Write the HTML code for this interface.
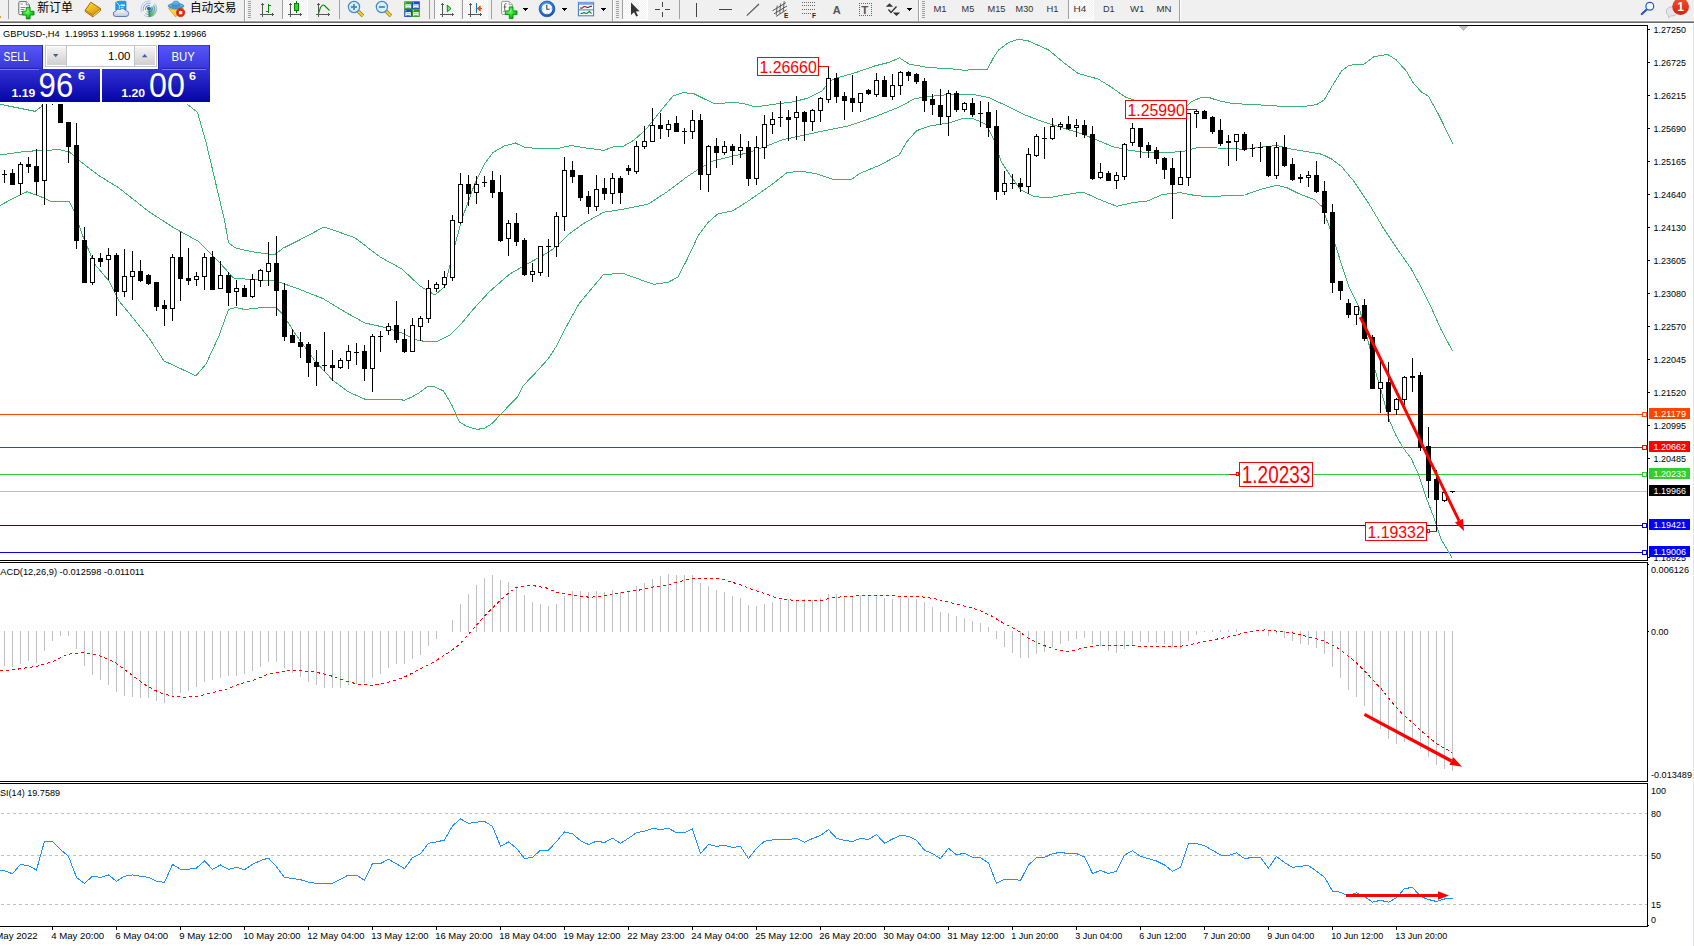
<!DOCTYPE html>
<html><head><meta charset="utf-8"><title>GBPUSD H4</title>
<style>html,body{margin:0;padding:0;background:#fff;overflow:hidden}svg{display:block}</style></head>
<body>
<svg width="1694" height="946" viewBox="0 0 1694 946" font-family="'Liberation Sans','Noto Sans CJK SC',sans-serif" shape-rendering="crispEdges">
<defs>
<linearGradient id="gbtn" x1="0" y1="0" x2="0" y2="1"><stop offset="0" stop-color="#5858f8"/><stop offset="1" stop-color="#3636dc"/></linearGradient>
<linearGradient id="gprice" x1="0" y1="0" x2="0" y2="1"><stop offset="0" stop-color="#3030d4"/><stop offset="1" stop-color="#0505a6"/></linearGradient>
<linearGradient id="gspin" x1="0" y1="0" x2="0" y2="1"><stop offset="0" stop-color="#f4f4f4"/><stop offset="1" stop-color="#cfcfcf"/></linearGradient>
<linearGradient id="gred" x1="0" y1="0" x2="0" y2="1"><stop offset="0" stop-color="#f0502e"/><stop offset="1" stop-color="#d61f10"/></linearGradient>
<clipPath id="cmain"><rect x="0" y="26" width="1647" height="534"/></clipPath>
<clipPath id="cax1"><rect x="1648" y="23" width="46" height="539"/></clipPath>
</defs>
<rect x="0" y="0" width="1694" height="946" fill="#fff"/>
<g clip-path="url(#cmain)">
<rect x="0" y="414" width="1647" height="1" fill="#ff4500"/>
<rect x="0" y="447" width="1647" height="1" fill="#ff0000"/>
<rect x="0" y="474" width="1647" height="1" fill="#32cd32"/>
<rect x="0" y="491" width="1647" height="1" fill="#c0c0c0"/>
<rect x="0" y="525" width="1647" height="1" fill="#0000ff"/>
<rect x="0" y="552" width="1647" height="1" fill="#0000ff"/>
<polyline points="0.0,104.3 15.0,107.3 35.0,111.3 41.0,106.8 44.0,103.0 50.0,90.0 80.0,60.0 150.0,60.0 180.0,95.0 187.5,104.4 197.5,112.4 206.0,142.0 216.0,184.4 224.8,221.6 228.5,242.8 236.0,248.2 251.0,251.5 268.0,254.0 275.7,254.0 283.0,248.2 298.0,240.8 324.0,227.0 333.0,230.0 355.0,237.8 380.0,257.0 402.0,269.0 420.0,286.0 434.8,295.0 444.7,286.7 454.6,246.5 462.0,218.7 474.5,184.5 484.5,164.0 493.0,152.4 504.3,146.0 515.5,143.0 524.2,147.2 539.0,148.7 556.5,148.7 571.4,145.5 586.3,148.0 603.7,150.4 613.6,146.7 623.5,146.2 633.5,140.5 646.0,129.3 660.8,110.7 673.2,95.8 683.0,92.8 693.0,93.3 705.5,99.5 715.4,104.0 730.4,102.5 742.8,103.2 755.2,107.0 772.6,104.5 792.4,102.0 807.4,98.3 812.4,95.8 822.4,90.8 829.8,80.9 839.7,77.2 857.0,72.2 874.5,66.0 889.4,62.3 899.4,57.8 909.3,64.2 929.2,67.7 949.0,68.5 964.0,70.2 987.5,69.2 993.7,57.3 998.7,49.8 1008.6,42.4 1018.6,39.2 1028.5,41.0 1048.4,49.8 1063.3,62.3 1078.2,73.4 1098.0,79.0 1108.0,85.0 1115.3,90.0 1125.3,96.9 1132.2,99.6 1150.0,104.5 1170.0,107.0 1187.0,105.7 1190.5,102.5 1195.0,100.0 1200.0,98.0 1204.0,97.2 1208.0,97.2 1215.0,99.5 1222.0,101.5 1230.0,103.0 1242.2,104.0 1264.6,105.2 1291.9,107.0 1304.3,106.5 1316.7,104.5 1324.2,100.0 1331.6,87.0 1341.6,71.0 1349.0,65.2 1364.0,64.2 1373.9,56.8 1387.5,54.3 1396.2,59.8 1406.2,71.0 1413.6,83.4 1421.0,91.6 1428.5,96.3 1438.5,114.4 1452.9,143.7" fill="none" stroke="#3cb371" stroke-width="1"/>
<polyline points="0.0,155.0 25.0,151.4 59.6,149.6 69.5,152.0 79.5,160.8 99.0,175.7 119.0,188.0 149.0,211.7 174.0,227.9 198.7,241.5 218.6,261.4 233.5,278.0 248.0,279.3 275.7,280.8 298.0,288.7 323.0,298.6 347.7,313.5 365.0,323.0 387.5,328.0 402.0,333.0 415.0,339.6 427.3,341.9 437.0,341.4 449.7,335.2 462.0,322.8 474.5,307.9 489.4,291.7 509.3,274.3 529.0,263.0 549.0,252.0 559.0,244.0 569.0,234.0 583.8,223.4 603.7,212.2 623.5,209.2 648.4,204.0 668.3,191.0 685.6,177.8 698.0,169.5 713.0,161.0 730.4,156.6 747.7,152.9 765.0,146.7 782.5,139.8 802.4,135.5 824.8,130.6 849.7,125.6 874.5,116.9 899.4,107.0 914.3,98.8 929.2,96.5 949.0,94.5 973.9,94.5 988.8,97.5 1003.7,104.5 1023.5,114.4 1043.4,121.9 1063.3,128.0 1083.0,134.3 1098.0,140.5 1113.0,146.7 1128.0,150.0 1147.7,152.9 1165.0,152.4 1182.5,151.7 1197.4,147.5 1210.0,147.5 1224.8,148.5 1244.7,149.2 1264.6,146.7 1277.0,145.5 1291.9,149.2 1306.8,151.7 1321.7,154.2 1331.6,159.0 1341.6,166.6 1354.0,181.5 1368.9,203.8 1383.8,228.7 1396.2,247.4 1411.0,268.5 1421.0,287.0 1431.0,307.0 1441.0,329.4 1452.5,351.0" fill="none" stroke="#3cb371" stroke-width="1"/>
<polyline points="0.0,205.5 15.0,197.3 27.0,191.8 40.0,196.3 52.0,201.8 69.5,201.8 74.5,211.7 82.0,234.0 94.4,263.9 109.0,281.0 119.0,301.0 129.0,313.0 149.0,338.0 164.0,360.9 196.0,375.8 206.0,364.0 218.6,336.8 228.5,309.5 236.0,307.5 244.7,309.5 260.8,307.7 275.7,307.0 283.0,314.5 295.6,334.3 315.4,361.6 332.8,380.3 347.7,391.5 365.0,399.2 400.0,399.2 403.7,400.4 411.2,397.3 419.9,392.3 427.4,386.7 431.1,386.1 436.1,387.4 443.6,391.1 447.3,397.3 452.3,406.0 456.1,414.8 459.8,422.3 467.3,426.6 477.3,429.4 484.7,428.1 492.2,423.5 499.7,415.4 510.9,403.6 517.2,397.3 523.4,385.5 535.9,372.4 548.3,358.7 557.1,345.0 564.5,330.0 578.8,304.0 603.7,274.3 623.5,273.6 653.4,284.3 668.3,282.3 678.2,276.8 686.9,259.7 693.0,247.0 698.0,236.0 708.0,222.5 718.0,213.8 732.8,210.8 747.7,201.4 772.6,184.0 787.5,172.3 802.4,171.5 815.0,173.5 832.3,179.0 852.2,179.0 859.6,173.5 879.5,165.3 899.4,154.7 906.8,141.7 916.7,130.6 931.6,125.6 949.0,123.0 964.0,118.0 973.9,118.9 986.3,124.4 993.7,139.3 1001.2,161.6 1011.0,176.5 1021.0,190.2 1033.5,196.4 1048.4,198.0 1063.3,195.0 1083.0,192.0 1098.0,198.9 1116.7,206.3 1132.8,202.6 1147.7,200.9 1162.6,194.4 1180.0,192.7 1197.4,195.9 1212.3,196.4 1244.7,195.0 1259.6,189.7 1277.0,185.2 1286.9,187.7 1299.4,193.9 1314.3,199.6 1321.7,206.3 1329.2,226.2 1335.4,245.0 1341.6,264.8 1349.0,287.0 1359.0,307.0 1368.9,344.0 1375.0,370.0 1381.3,391.5 1388.8,418.8 1396.2,436.0 1403.7,448.6 1411.1,458.4 1418.6,474.5 1426.0,496.9 1433.5,516.7 1441.0,539.0 1452.0,557.7" fill="none" stroke="#3cb371" stroke-width="1"/>
<rect x="4" y="170" width="1" height="13" fill="#000"/>
<rect x="2" y="174" width="5" height="1" fill="#000"/>
<rect x="12" y="169" width="1" height="16" fill="#000"/>
<rect x="10" y="173" width="5" height="12" fill="#000"/>
<rect x="20" y="162" width="1" height="33" fill="#000"/>
<rect x="18" y="164" width="5" height="20" fill="#000"/>
<rect x="19" y="165" width="3" height="18" fill="#fff"/>
<rect x="28" y="157" width="1" height="16" fill="#000"/>
<rect x="26" y="164" width="5" height="3" fill="#000"/>
<rect x="36" y="149" width="1" height="46" fill="#000"/>
<rect x="34" y="166" width="5" height="16" fill="#000"/>
<rect x="44" y="70" width="1" height="135" fill="#000"/>
<rect x="42" y="96" width="5" height="85" fill="#000"/>
<rect x="43" y="97" width="3" height="83" fill="#fff"/>
<rect x="52" y="75" width="1" height="30" fill="#000"/>
<rect x="50" y="80" width="5" height="21" fill="#000"/>
<rect x="60" y="90" width="1" height="33" fill="#000"/>
<rect x="58" y="95" width="5" height="28" fill="#000"/>
<rect x="68" y="122" width="1" height="41" fill="#000"/>
<rect x="66" y="122" width="5" height="25" fill="#000"/>
<rect x="76" y="123" width="1" height="126" fill="#000"/>
<rect x="74" y="145" width="5" height="96" fill="#000"/>
<rect x="84" y="227" width="1" height="56" fill="#000"/>
<rect x="82" y="240" width="5" height="43" fill="#000"/>
<rect x="92" y="255" width="1" height="30" fill="#000"/>
<rect x="90" y="258" width="5" height="25" fill="#000"/>
<rect x="91" y="259" width="3" height="23" fill="#fff"/>
<rect x="100" y="253" width="1" height="14" fill="#000"/>
<rect x="98" y="258" width="5" height="4" fill="#000"/>
<rect x="108" y="248" width="1" height="32" fill="#000"/>
<rect x="106" y="255" width="5" height="5" fill="#000"/>
<rect x="107" y="256" width="3" height="3" fill="#fff"/>
<rect x="116" y="253" width="1" height="63" fill="#000"/>
<rect x="114" y="255" width="5" height="37" fill="#000"/>
<rect x="124" y="249" width="1" height="48" fill="#000"/>
<rect x="122" y="276" width="5" height="16" fill="#000"/>
<rect x="123" y="277" width="3" height="14" fill="#fff"/>
<rect x="132" y="251" width="1" height="49" fill="#000"/>
<rect x="130" y="271" width="5" height="6" fill="#000"/>
<rect x="131" y="272" width="3" height="4" fill="#fff"/>
<rect x="140" y="260" width="1" height="22" fill="#000"/>
<rect x="138" y="271" width="5" height="10" fill="#000"/>
<rect x="148" y="274" width="1" height="11" fill="#000"/>
<rect x="146" y="275" width="5" height="9" fill="#000"/>
<rect x="156" y="282" width="1" height="29" fill="#000"/>
<rect x="154" y="282" width="5" height="25" fill="#000"/>
<rect x="164" y="300" width="1" height="26" fill="#000"/>
<rect x="162" y="305" width="5" height="4" fill="#000"/>
<rect x="172" y="254" width="1" height="67" fill="#000"/>
<rect x="170" y="257" width="5" height="52" fill="#000"/>
<rect x="171" y="258" width="3" height="50" fill="#fff"/>
<rect x="180" y="232" width="1" height="69" fill="#000"/>
<rect x="178" y="257" width="5" height="22" fill="#000"/>
<rect x="188" y="248" width="1" height="37" fill="#000"/>
<rect x="186" y="278" width="5" height="3" fill="#000"/>
<rect x="196" y="272" width="1" height="14" fill="#000"/>
<rect x="194" y="276" width="5" height="4" fill="#000"/>
<rect x="195" y="277" width="3" height="2" fill="#fff"/>
<rect x="204" y="253" width="1" height="37" fill="#000"/>
<rect x="202" y="257" width="5" height="20" fill="#000"/>
<rect x="203" y="258" width="3" height="18" fill="#fff"/>
<rect x="212" y="251" width="1" height="39" fill="#000"/>
<rect x="210" y="257" width="5" height="33" fill="#000"/>
<rect x="220" y="261" width="1" height="28" fill="#000"/>
<rect x="218" y="275" width="5" height="14" fill="#000"/>
<rect x="219" y="276" width="3" height="12" fill="#fff"/>
<rect x="228" y="272" width="1" height="34" fill="#000"/>
<rect x="226" y="275" width="5" height="18" fill="#000"/>
<rect x="236" y="280" width="1" height="26" fill="#000"/>
<rect x="234" y="288" width="5" height="4" fill="#000"/>
<rect x="235" y="289" width="3" height="2" fill="#fff"/>
<rect x="244" y="285" width="1" height="12" fill="#000"/>
<rect x="242" y="288" width="5" height="9" fill="#000"/>
<rect x="252" y="274" width="1" height="24" fill="#000"/>
<rect x="250" y="279" width="5" height="18" fill="#000"/>
<rect x="251" y="280" width="3" height="16" fill="#fff"/>
<rect x="260" y="269" width="1" height="18" fill="#000"/>
<rect x="258" y="270" width="5" height="11" fill="#000"/>
<rect x="259" y="271" width="3" height="9" fill="#fff"/>
<rect x="268" y="242" width="1" height="44" fill="#000"/>
<rect x="266" y="263" width="5" height="9" fill="#000"/>
<rect x="267" y="264" width="3" height="7" fill="#fff"/>
<rect x="276" y="236" width="1" height="80" fill="#000"/>
<rect x="274" y="263" width="5" height="28" fill="#000"/>
<rect x="284" y="283" width="1" height="58" fill="#000"/>
<rect x="282" y="290" width="5" height="47" fill="#000"/>
<rect x="292" y="329" width="1" height="14" fill="#000"/>
<rect x="290" y="335" width="5" height="8" fill="#000"/>
<rect x="300" y="332" width="1" height="26" fill="#000"/>
<rect x="298" y="342" width="5" height="5" fill="#000"/>
<rect x="308" y="342" width="1" height="35" fill="#000"/>
<rect x="306" y="344" width="5" height="19" fill="#000"/>
<rect x="316" y="350" width="1" height="36" fill="#000"/>
<rect x="314" y="362" width="5" height="5" fill="#000"/>
<rect x="324" y="332" width="1" height="39" fill="#000"/>
<rect x="322" y="365" width="5" height="1" fill="#000"/>
<rect x="332" y="350" width="1" height="31" fill="#000"/>
<rect x="330" y="365" width="5" height="3" fill="#000"/>
<rect x="340" y="358" width="1" height="11" fill="#000"/>
<rect x="338" y="360" width="5" height="8" fill="#000"/>
<rect x="339" y="361" width="3" height="6" fill="#fff"/>
<rect x="348" y="345" width="1" height="24" fill="#000"/>
<rect x="346" y="351" width="5" height="10" fill="#000"/>
<rect x="347" y="352" width="3" height="8" fill="#fff"/>
<rect x="356" y="343" width="1" height="22" fill="#000"/>
<rect x="354" y="352" width="5" height="1" fill="#000"/>
<rect x="364" y="345" width="1" height="36" fill="#000"/>
<rect x="362" y="351" width="5" height="18" fill="#000"/>
<rect x="372" y="334" width="1" height="58" fill="#000"/>
<rect x="370" y="336" width="5" height="33" fill="#000"/>
<rect x="371" y="337" width="3" height="31" fill="#fff"/>
<rect x="380" y="331" width="1" height="21" fill="#000"/>
<rect x="378" y="336" width="5" height="1" fill="#000"/>
<rect x="388" y="323" width="1" height="12" fill="#000"/>
<rect x="386" y="326" width="5" height="5" fill="#000"/>
<rect x="387" y="327" width="3" height="3" fill="#fff"/>
<rect x="396" y="301" width="1" height="42" fill="#000"/>
<rect x="394" y="325" width="5" height="15" fill="#000"/>
<rect x="404" y="329" width="1" height="24" fill="#000"/>
<rect x="402" y="339" width="5" height="13" fill="#000"/>
<rect x="412" y="318" width="1" height="34" fill="#000"/>
<rect x="410" y="325" width="5" height="27" fill="#000"/>
<rect x="411" y="326" width="3" height="25" fill="#fff"/>
<rect x="420" y="316" width="1" height="25" fill="#000"/>
<rect x="418" y="318" width="5" height="9" fill="#000"/>
<rect x="419" y="319" width="3" height="7" fill="#fff"/>
<rect x="428" y="280" width="1" height="43" fill="#000"/>
<rect x="426" y="288" width="5" height="31" fill="#000"/>
<rect x="427" y="289" width="3" height="29" fill="#fff"/>
<rect x="436" y="282" width="1" height="10" fill="#000"/>
<rect x="434" y="284" width="5" height="5" fill="#000"/>
<rect x="435" y="285" width="3" height="3" fill="#fff"/>
<rect x="444" y="271" width="1" height="17" fill="#000"/>
<rect x="442" y="277" width="5" height="8" fill="#000"/>
<rect x="443" y="278" width="3" height="6" fill="#fff"/>
<rect x="452" y="215" width="1" height="66" fill="#000"/>
<rect x="450" y="220" width="5" height="58" fill="#000"/>
<rect x="451" y="221" width="3" height="56" fill="#fff"/>
<rect x="460" y="173" width="1" height="51" fill="#000"/>
<rect x="458" y="184" width="5" height="39" fill="#000"/>
<rect x="459" y="185" width="3" height="37" fill="#fff"/>
<rect x="468" y="175" width="1" height="31" fill="#000"/>
<rect x="466" y="184" width="5" height="10" fill="#000"/>
<rect x="476" y="176" width="1" height="28" fill="#000"/>
<rect x="474" y="184" width="5" height="9" fill="#000"/>
<rect x="475" y="185" width="3" height="7" fill="#fff"/>
<rect x="484" y="176" width="1" height="11" fill="#000"/>
<rect x="482" y="182" width="5" height="1" fill="#000"/>
<rect x="492" y="171" width="1" height="27" fill="#000"/>
<rect x="490" y="180" width="5" height="13" fill="#000"/>
<rect x="500" y="175" width="1" height="67" fill="#000"/>
<rect x="498" y="192" width="5" height="49" fill="#000"/>
<rect x="508" y="220" width="1" height="36" fill="#000"/>
<rect x="506" y="223" width="5" height="16" fill="#000"/>
<rect x="507" y="224" width="3" height="14" fill="#fff"/>
<rect x="516" y="213" width="1" height="33" fill="#000"/>
<rect x="514" y="223" width="5" height="19" fill="#000"/>
<rect x="524" y="238" width="1" height="38" fill="#000"/>
<rect x="522" y="240" width="5" height="35" fill="#000"/>
<rect x="532" y="263" width="1" height="19" fill="#000"/>
<rect x="530" y="271" width="5" height="4" fill="#000"/>
<rect x="531" y="272" width="3" height="2" fill="#fff"/>
<rect x="540" y="246" width="1" height="30" fill="#000"/>
<rect x="538" y="246" width="5" height="27" fill="#000"/>
<rect x="539" y="247" width="3" height="25" fill="#fff"/>
<rect x="548" y="239" width="1" height="38" fill="#000"/>
<rect x="546" y="246" width="5" height="1" fill="#000"/>
<rect x="556" y="212" width="1" height="45" fill="#000"/>
<rect x="554" y="216" width="5" height="31" fill="#000"/>
<rect x="555" y="217" width="3" height="29" fill="#fff"/>
<rect x="564" y="157" width="1" height="74" fill="#000"/>
<rect x="562" y="170" width="5" height="47" fill="#000"/>
<rect x="563" y="171" width="3" height="45" fill="#fff"/>
<rect x="572" y="161" width="1" height="22" fill="#000"/>
<rect x="570" y="170" width="5" height="7" fill="#000"/>
<rect x="580" y="175" width="1" height="26" fill="#000"/>
<rect x="578" y="175" width="5" height="23" fill="#000"/>
<rect x="588" y="191" width="1" height="23" fill="#000"/>
<rect x="586" y="196" width="5" height="11" fill="#000"/>
<rect x="596" y="175" width="1" height="36" fill="#000"/>
<rect x="594" y="189" width="5" height="18" fill="#000"/>
<rect x="595" y="190" width="3" height="16" fill="#fff"/>
<rect x="604" y="178" width="1" height="22" fill="#000"/>
<rect x="602" y="188" width="5" height="6" fill="#000"/>
<rect x="612" y="173" width="1" height="31" fill="#000"/>
<rect x="610" y="178" width="5" height="16" fill="#000"/>
<rect x="611" y="179" width="3" height="14" fill="#fff"/>
<rect x="620" y="176" width="1" height="28" fill="#000"/>
<rect x="618" y="178" width="5" height="15" fill="#000"/>
<rect x="628" y="165" width="1" height="10" fill="#000"/>
<rect x="626" y="168" width="5" height="3" fill="#000"/>
<rect x="636" y="141" width="1" height="33" fill="#000"/>
<rect x="634" y="146" width="5" height="26" fill="#000"/>
<rect x="635" y="147" width="3" height="24" fill="#fff"/>
<rect x="644" y="126" width="1" height="23" fill="#000"/>
<rect x="642" y="141" width="5" height="6" fill="#000"/>
<rect x="643" y="142" width="3" height="4" fill="#fff"/>
<rect x="652" y="108" width="1" height="34" fill="#000"/>
<rect x="650" y="125" width="5" height="17" fill="#000"/>
<rect x="651" y="126" width="3" height="15" fill="#fff"/>
<rect x="660" y="113" width="1" height="26" fill="#000"/>
<rect x="658" y="125" width="5" height="4" fill="#000"/>
<rect x="668" y="120" width="1" height="17" fill="#000"/>
<rect x="666" y="124" width="5" height="6" fill="#000"/>
<rect x="667" y="125" width="3" height="4" fill="#fff"/>
<rect x="676" y="116" width="1" height="16" fill="#000"/>
<rect x="674" y="123" width="5" height="9" fill="#000"/>
<rect x="684" y="128" width="1" height="16" fill="#000"/>
<rect x="682" y="131" width="5" height="1" fill="#000"/>
<rect x="692" y="110" width="1" height="29" fill="#000"/>
<rect x="690" y="120" width="5" height="12" fill="#000"/>
<rect x="691" y="121" width="3" height="10" fill="#fff"/>
<rect x="700" y="114" width="1" height="76" fill="#000"/>
<rect x="698" y="120" width="5" height="55" fill="#000"/>
<rect x="708" y="145" width="1" height="47" fill="#000"/>
<rect x="706" y="146" width="5" height="29" fill="#000"/>
<rect x="707" y="147" width="3" height="27" fill="#fff"/>
<rect x="716" y="138" width="1" height="30" fill="#000"/>
<rect x="714" y="146" width="5" height="7" fill="#000"/>
<rect x="724" y="141" width="1" height="14" fill="#000"/>
<rect x="722" y="146" width="5" height="7" fill="#000"/>
<rect x="723" y="147" width="3" height="5" fill="#fff"/>
<rect x="732" y="144" width="1" height="21" fill="#000"/>
<rect x="730" y="146" width="5" height="5" fill="#000"/>
<rect x="740" y="134" width="1" height="24" fill="#000"/>
<rect x="738" y="147" width="5" height="4" fill="#000"/>
<rect x="739" y="148" width="3" height="2" fill="#fff"/>
<rect x="748" y="141" width="1" height="45" fill="#000"/>
<rect x="746" y="147" width="5" height="32" fill="#000"/>
<rect x="756" y="136" width="1" height="49" fill="#000"/>
<rect x="754" y="147" width="5" height="32" fill="#000"/>
<rect x="755" y="148" width="3" height="30" fill="#fff"/>
<rect x="764" y="115" width="1" height="44" fill="#000"/>
<rect x="762" y="124" width="5" height="24" fill="#000"/>
<rect x="763" y="125" width="3" height="22" fill="#fff"/>
<rect x="772" y="112" width="1" height="22" fill="#000"/>
<rect x="770" y="119" width="5" height="6" fill="#000"/>
<rect x="771" y="120" width="3" height="4" fill="#fff"/>
<rect x="780" y="101" width="1" height="26" fill="#000"/>
<rect x="778" y="117" width="5" height="1" fill="#000"/>
<rect x="788" y="110" width="1" height="31" fill="#000"/>
<rect x="786" y="117" width="5" height="3" fill="#000"/>
<rect x="796" y="96" width="1" height="44" fill="#000"/>
<rect x="794" y="112" width="5" height="6" fill="#000"/>
<rect x="795" y="113" width="3" height="4" fill="#fff"/>
<rect x="804" y="111" width="1" height="30" fill="#000"/>
<rect x="802" y="112" width="5" height="10" fill="#000"/>
<rect x="812" y="109" width="1" height="22" fill="#000"/>
<rect x="810" y="110" width="5" height="12" fill="#000"/>
<rect x="811" y="111" width="3" height="10" fill="#fff"/>
<rect x="820" y="97" width="1" height="25" fill="#000"/>
<rect x="818" y="98" width="5" height="13" fill="#000"/>
<rect x="819" y="99" width="3" height="11" fill="#fff"/>
<rect x="828" y="67" width="1" height="36" fill="#000"/>
<rect x="826" y="78" width="5" height="22" fill="#000"/>
<rect x="827" y="79" width="3" height="20" fill="#fff"/>
<rect x="836" y="73" width="1" height="30" fill="#000"/>
<rect x="834" y="78" width="5" height="19" fill="#000"/>
<rect x="844" y="92" width="1" height="28" fill="#000"/>
<rect x="842" y="96" width="5" height="5" fill="#000"/>
<rect x="852" y="75" width="1" height="37" fill="#000"/>
<rect x="850" y="98" width="5" height="5" fill="#000"/>
<rect x="860" y="93" width="1" height="19" fill="#000"/>
<rect x="858" y="93" width="5" height="10" fill="#000"/>
<rect x="859" y="94" width="3" height="8" fill="#fff"/>
<rect x="868" y="89" width="1" height="6" fill="#000"/>
<rect x="866" y="90" width="5" height="4" fill="#000"/>
<rect x="876" y="73" width="1" height="24" fill="#000"/>
<rect x="874" y="80" width="5" height="15" fill="#000"/>
<rect x="875" y="81" width="3" height="13" fill="#fff"/>
<rect x="884" y="76" width="1" height="21" fill="#000"/>
<rect x="882" y="80" width="5" height="17" fill="#000"/>
<rect x="892" y="74" width="1" height="26" fill="#000"/>
<rect x="890" y="85" width="5" height="12" fill="#000"/>
<rect x="891" y="86" width="3" height="10" fill="#fff"/>
<rect x="900" y="71" width="1" height="24" fill="#000"/>
<rect x="898" y="72" width="5" height="14" fill="#000"/>
<rect x="899" y="73" width="3" height="12" fill="#fff"/>
<rect x="908" y="71" width="1" height="10" fill="#000"/>
<rect x="906" y="72" width="5" height="4" fill="#000"/>
<rect x="916" y="73" width="1" height="11" fill="#000"/>
<rect x="914" y="74" width="5" height="8" fill="#000"/>
<rect x="924" y="78" width="1" height="34" fill="#000"/>
<rect x="922" y="81" width="5" height="20" fill="#000"/>
<rect x="932" y="94" width="1" height="21" fill="#000"/>
<rect x="930" y="99" width="5" height="6" fill="#000"/>
<rect x="940" y="89" width="1" height="36" fill="#000"/>
<rect x="938" y="105" width="5" height="12" fill="#000"/>
<rect x="948" y="90" width="1" height="46" fill="#000"/>
<rect x="946" y="93" width="5" height="24" fill="#000"/>
<rect x="947" y="94" width="3" height="22" fill="#fff"/>
<rect x="956" y="91" width="1" height="21" fill="#000"/>
<rect x="954" y="93" width="5" height="17" fill="#000"/>
<rect x="964" y="102" width="1" height="10" fill="#000"/>
<rect x="962" y="103" width="5" height="7" fill="#000"/>
<rect x="963" y="104" width="3" height="5" fill="#fff"/>
<rect x="972" y="98" width="1" height="19" fill="#000"/>
<rect x="970" y="103" width="5" height="12" fill="#000"/>
<rect x="980" y="101" width="1" height="26" fill="#000"/>
<rect x="978" y="113" width="5" height="1" fill="#000"/>
<rect x="988" y="102" width="1" height="35" fill="#000"/>
<rect x="986" y="112" width="5" height="16" fill="#000"/>
<rect x="996" y="110" width="1" height="90" fill="#000"/>
<rect x="994" y="126" width="5" height="66" fill="#000"/>
<rect x="1004" y="171" width="1" height="24" fill="#000"/>
<rect x="1002" y="183" width="5" height="9" fill="#000"/>
<rect x="1003" y="184" width="3" height="7" fill="#fff"/>
<rect x="1012" y="174" width="1" height="15" fill="#000"/>
<rect x="1010" y="183" width="5" height="1" fill="#000"/>
<rect x="1020" y="178" width="1" height="14" fill="#000"/>
<rect x="1018" y="183" width="5" height="4" fill="#000"/>
<rect x="1028" y="148" width="1" height="46" fill="#000"/>
<rect x="1026" y="154" width="5" height="33" fill="#000"/>
<rect x="1027" y="155" width="3" height="31" fill="#fff"/>
<rect x="1036" y="134" width="1" height="23" fill="#000"/>
<rect x="1034" y="136" width="5" height="20" fill="#000"/>
<rect x="1035" y="137" width="3" height="18" fill="#fff"/>
<rect x="1044" y="127" width="1" height="32" fill="#000"/>
<rect x="1042" y="138" width="5" height="1" fill="#000"/>
<rect x="1052" y="118" width="1" height="22" fill="#000"/>
<rect x="1050" y="126" width="5" height="13" fill="#000"/>
<rect x="1051" y="127" width="3" height="11" fill="#fff"/>
<rect x="1060" y="122" width="1" height="8" fill="#000"/>
<rect x="1058" y="124" width="5" height="3" fill="#000"/>
<rect x="1059" y="125" width="3" height="1" fill="#fff"/>
<rect x="1068" y="116" width="1" height="14" fill="#000"/>
<rect x="1066" y="124" width="5" height="5" fill="#000"/>
<rect x="1076" y="119" width="1" height="18" fill="#000"/>
<rect x="1074" y="125" width="5" height="3" fill="#000"/>
<rect x="1075" y="126" width="3" height="1" fill="#fff"/>
<rect x="1084" y="120" width="1" height="18" fill="#000"/>
<rect x="1082" y="125" width="5" height="10" fill="#000"/>
<rect x="1092" y="126" width="1" height="54" fill="#000"/>
<rect x="1090" y="134" width="5" height="45" fill="#000"/>
<rect x="1100" y="163" width="1" height="16" fill="#000"/>
<rect x="1098" y="172" width="5" height="6" fill="#000"/>
<rect x="1099" y="173" width="3" height="4" fill="#fff"/>
<rect x="1108" y="171" width="1" height="10" fill="#000"/>
<rect x="1106" y="173" width="5" height="8" fill="#000"/>
<rect x="1116" y="172" width="1" height="17" fill="#000"/>
<rect x="1114" y="175" width="5" height="6" fill="#000"/>
<rect x="1115" y="176" width="3" height="4" fill="#fff"/>
<rect x="1124" y="143" width="1" height="37" fill="#000"/>
<rect x="1122" y="144" width="5" height="33" fill="#000"/>
<rect x="1123" y="145" width="3" height="31" fill="#fff"/>
<rect x="1132" y="123" width="1" height="23" fill="#000"/>
<rect x="1130" y="128" width="5" height="15" fill="#000"/>
<rect x="1131" y="129" width="3" height="13" fill="#fff"/>
<rect x="1140" y="128" width="1" height="30" fill="#000"/>
<rect x="1138" y="128" width="5" height="19" fill="#000"/>
<rect x="1148" y="142" width="1" height="16" fill="#000"/>
<rect x="1146" y="145" width="5" height="6" fill="#000"/>
<rect x="1156" y="147" width="1" height="17" fill="#000"/>
<rect x="1154" y="150" width="5" height="9" fill="#000"/>
<rect x="1164" y="157" width="1" height="22" fill="#000"/>
<rect x="1162" y="158" width="5" height="12" fill="#000"/>
<rect x="1172" y="158" width="1" height="61" fill="#000"/>
<rect x="1170" y="168" width="5" height="17" fill="#000"/>
<rect x="1180" y="151" width="1" height="34" fill="#000"/>
<rect x="1178" y="177" width="5" height="8" fill="#000"/>
<rect x="1179" y="178" width="3" height="6" fill="#fff"/>
<rect x="1188" y="113" width="1" height="73" fill="#000"/>
<rect x="1186" y="113" width="5" height="65" fill="#000"/>
<rect x="1187" y="114" width="3" height="63" fill="#fff"/>
<rect x="1196" y="110" width="1" height="18" fill="#000"/>
<rect x="1194" y="111" width="5" height="3" fill="#000"/>
<rect x="1195" y="112" width="3" height="1" fill="#fff"/>
<rect x="1204" y="110" width="1" height="9" fill="#000"/>
<rect x="1202" y="111" width="5" height="8" fill="#000"/>
<rect x="1212" y="116" width="1" height="18" fill="#000"/>
<rect x="1210" y="117" width="5" height="15" fill="#000"/>
<rect x="1220" y="119" width="1" height="27" fill="#000"/>
<rect x="1218" y="130" width="5" height="14" fill="#000"/>
<rect x="1228" y="135" width="1" height="31" fill="#000"/>
<rect x="1226" y="141" width="5" height="2" fill="#000"/>
<rect x="1236" y="134" width="1" height="27" fill="#000"/>
<rect x="1234" y="134" width="5" height="8" fill="#000"/>
<rect x="1235" y="135" width="3" height="6" fill="#fff"/>
<rect x="1244" y="132" width="1" height="19" fill="#000"/>
<rect x="1242" y="134" width="5" height="16" fill="#000"/>
<rect x="1252" y="144" width="1" height="13" fill="#000"/>
<rect x="1250" y="148" width="5" height="1" fill="#000"/>
<rect x="1260" y="142" width="1" height="20" fill="#000"/>
<rect x="1258" y="147" width="5" height="1" fill="#000"/>
<rect x="1268" y="146" width="1" height="31" fill="#000"/>
<rect x="1266" y="146" width="5" height="30" fill="#000"/>
<rect x="1276" y="142" width="1" height="37" fill="#000"/>
<rect x="1274" y="147" width="5" height="29" fill="#000"/>
<rect x="1275" y="148" width="3" height="27" fill="#fff"/>
<rect x="1284" y="135" width="1" height="32" fill="#000"/>
<rect x="1282" y="147" width="5" height="19" fill="#000"/>
<rect x="1292" y="158" width="1" height="23" fill="#000"/>
<rect x="1290" y="164" width="5" height="16" fill="#000"/>
<rect x="1300" y="174" width="1" height="9" fill="#000"/>
<rect x="1298" y="177" width="5" height="2" fill="#000"/>
<rect x="1308" y="171" width="1" height="16" fill="#000"/>
<rect x="1306" y="175" width="5" height="3" fill="#000"/>
<rect x="1307" y="176" width="3" height="1" fill="#fff"/>
<rect x="1316" y="161" width="1" height="32" fill="#000"/>
<rect x="1314" y="175" width="5" height="17" fill="#000"/>
<rect x="1324" y="181" width="1" height="43" fill="#000"/>
<rect x="1322" y="191" width="5" height="22" fill="#000"/>
<rect x="1332" y="204" width="1" height="89" fill="#000"/>
<rect x="1330" y="212" width="5" height="71" fill="#000"/>
<rect x="1340" y="281" width="1" height="19" fill="#000"/>
<rect x="1338" y="281" width="5" height="10" fill="#000"/>
<rect x="1348" y="299" width="1" height="19" fill="#000"/>
<rect x="1346" y="303" width="5" height="12" fill="#000"/>
<rect x="1356" y="306" width="1" height="19" fill="#000"/>
<rect x="1354" y="306" width="5" height="9" fill="#000"/>
<rect x="1355" y="307" width="3" height="7" fill="#fff"/>
<rect x="1364" y="299" width="1" height="42" fill="#000"/>
<rect x="1362" y="305" width="5" height="34" fill="#000"/>
<rect x="1372" y="335" width="1" height="54" fill="#000"/>
<rect x="1370" y="337" width="5" height="52" fill="#000"/>
<rect x="1380" y="359" width="1" height="54" fill="#000"/>
<rect x="1378" y="382" width="5" height="7" fill="#000"/>
<rect x="1379" y="383" width="3" height="5" fill="#fff"/>
<rect x="1388" y="362" width="1" height="60" fill="#000"/>
<rect x="1386" y="382" width="5" height="30" fill="#000"/>
<rect x="1396" y="398" width="1" height="17" fill="#000"/>
<rect x="1394" y="399" width="5" height="11" fill="#000"/>
<rect x="1395" y="400" width="3" height="9" fill="#fff"/>
<rect x="1404" y="376" width="1" height="29" fill="#000"/>
<rect x="1402" y="377" width="5" height="23" fill="#000"/>
<rect x="1403" y="378" width="3" height="21" fill="#fff"/>
<rect x="1412" y="358" width="1" height="34" fill="#000"/>
<rect x="1410" y="376" width="5" height="2" fill="#000"/>
<rect x="1420" y="372" width="1" height="79" fill="#000"/>
<rect x="1418" y="375" width="5" height="73" fill="#000"/>
<rect x="1428" y="427" width="1" height="71" fill="#000"/>
<rect x="1426" y="446" width="5" height="35" fill="#000"/>
<rect x="1436" y="470" width="1" height="62" fill="#000"/>
<rect x="1434" y="479" width="5" height="21" fill="#000"/>
<rect x="1444" y="492" width="1" height="10" fill="#000"/>
<rect x="1442" y="492" width="5" height="9" fill="#000"/>
<rect x="1443" y="493" width="3" height="7" fill="#fff"/>
<rect x="1452" y="491" width="1" height="2" fill="#000"/>
<rect x="1450" y="491" width="5" height="1" fill="#000"/>
</g>
<rect x="1642.5" y="412.5" width="4" height="4" fill="#fff" stroke="#ff4500" stroke-width="1"/>
<rect x="1642.5" y="445.5" width="4" height="4" fill="#fff" stroke="#ff0000" stroke-width="1"/>
<rect x="1642.5" y="472.5" width="4" height="4" fill="#fff" stroke="#32cd32" stroke-width="1"/>
<rect x="1642.5" y="523.5" width="4" height="4" fill="#fff" stroke="#0000ff" stroke-width="1"/>
<rect x="1642.5" y="550.5" width="4" height="4" fill="#fff" stroke="#0000ff" stroke-width="1"/>
<polygon points="1459,26 1468,26 1463.5,31" fill="#c0c0c0"/>
<rect x="4" y="631" width="1" height="35" fill="#c0c0c0"/>
<rect x="12" y="631" width="1" height="36" fill="#c0c0c0"/>
<rect x="20" y="631" width="1" height="33" fill="#c0c0c0"/>
<rect x="28" y="631" width="1" height="30" fill="#c0c0c0"/>
<rect x="36" y="631" width="1" height="32" fill="#c0c0c0"/>
<rect x="44" y="631" width="1" height="20" fill="#c0c0c0"/>
<rect x="52" y="631" width="1" height="10" fill="#c0c0c0"/>
<rect x="60" y="631" width="1" height="5" fill="#c0c0c0"/>
<rect x="68" y="631" width="1" height="5" fill="#c0c0c0"/>
<rect x="76" y="631" width="1" height="18" fill="#c0c0c0"/>
<rect x="84" y="631" width="1" height="35" fill="#c0c0c0"/>
<rect x="92" y="631" width="1" height="44" fill="#c0c0c0"/>
<rect x="100" y="631" width="1" height="49" fill="#c0c0c0"/>
<rect x="108" y="631" width="1" height="54" fill="#c0c0c0"/>
<rect x="116" y="631" width="1" height="61" fill="#c0c0c0"/>
<rect x="124" y="631" width="1" height="65" fill="#c0c0c0"/>
<rect x="132" y="631" width="1" height="66" fill="#c0c0c0"/>
<rect x="140" y="631" width="1" height="67" fill="#c0c0c0"/>
<rect x="148" y="631" width="1" height="67" fill="#c0c0c0"/>
<rect x="156" y="631" width="1" height="70" fill="#c0c0c0"/>
<rect x="164" y="631" width="1" height="72" fill="#c0c0c0"/>
<rect x="172" y="631" width="1" height="66" fill="#c0c0c0"/>
<rect x="180" y="631" width="1" height="62" fill="#c0c0c0"/>
<rect x="188" y="631" width="1" height="60" fill="#c0c0c0"/>
<rect x="196" y="631" width="1" height="56" fill="#c0c0c0"/>
<rect x="204" y="631" width="1" height="51" fill="#c0c0c0"/>
<rect x="212" y="631" width="1" height="49" fill="#c0c0c0"/>
<rect x="220" y="631" width="1" height="47" fill="#c0c0c0"/>
<rect x="228" y="631" width="1" height="45" fill="#c0c0c0"/>
<rect x="236" y="631" width="1" height="45" fill="#c0c0c0"/>
<rect x="244" y="631" width="1" height="43" fill="#c0c0c0"/>
<rect x="252" y="631" width="1" height="40" fill="#c0c0c0"/>
<rect x="260" y="631" width="1" height="36" fill="#c0c0c0"/>
<rect x="268" y="631" width="1" height="31" fill="#c0c0c0"/>
<rect x="276" y="631" width="1" height="31" fill="#c0c0c0"/>
<rect x="284" y="631" width="1" height="37" fill="#c0c0c0"/>
<rect x="292" y="631" width="1" height="42" fill="#c0c0c0"/>
<rect x="300" y="631" width="1" height="46" fill="#c0c0c0"/>
<rect x="308" y="631" width="1" height="51" fill="#c0c0c0"/>
<rect x="316" y="631" width="1" height="54" fill="#c0c0c0"/>
<rect x="324" y="631" width="1" height="57" fill="#c0c0c0"/>
<rect x="332" y="631" width="1" height="57" fill="#c0c0c0"/>
<rect x="340" y="631" width="1" height="57" fill="#c0c0c0"/>
<rect x="348" y="631" width="1" height="54" fill="#c0c0c0"/>
<rect x="356" y="631" width="1" height="53" fill="#c0c0c0"/>
<rect x="364" y="631" width="1" height="52" fill="#c0c0c0"/>
<rect x="372" y="631" width="1" height="47" fill="#c0c0c0"/>
<rect x="380" y="631" width="1" height="43" fill="#c0c0c0"/>
<rect x="388" y="631" width="1" height="37" fill="#c0c0c0"/>
<rect x="396" y="631" width="1" height="33" fill="#c0c0c0"/>
<rect x="404" y="631" width="1" height="33" fill="#c0c0c0"/>
<rect x="412" y="631" width="1" height="28" fill="#c0c0c0"/>
<rect x="420" y="631" width="1" height="24" fill="#c0c0c0"/>
<rect x="428" y="631" width="1" height="15" fill="#c0c0c0"/>
<rect x="436" y="631" width="1" height="8" fill="#c0c0c0"/>
<rect x="452" y="620" width="1" height="12" fill="#c0c0c0"/>
<rect x="460" y="604" width="1" height="28" fill="#c0c0c0"/>
<rect x="468" y="594" width="1" height="38" fill="#c0c0c0"/>
<rect x="476" y="585" width="1" height="47" fill="#c0c0c0"/>
<rect x="484" y="578" width="1" height="54" fill="#c0c0c0"/>
<rect x="492" y="575" width="1" height="57" fill="#c0c0c0"/>
<rect x="500" y="580" width="1" height="52" fill="#c0c0c0"/>
<rect x="508" y="582" width="1" height="50" fill="#c0c0c0"/>
<rect x="516" y="586" width="1" height="46" fill="#c0c0c0"/>
<rect x="524" y="595" width="1" height="37" fill="#c0c0c0"/>
<rect x="532" y="602" width="1" height="30" fill="#c0c0c0"/>
<rect x="540" y="604" width="1" height="28" fill="#c0c0c0"/>
<rect x="548" y="606" width="1" height="26" fill="#c0c0c0"/>
<rect x="556" y="604" width="1" height="28" fill="#c0c0c0"/>
<rect x="564" y="596" width="1" height="36" fill="#c0c0c0"/>
<rect x="572" y="591" width="1" height="41" fill="#c0c0c0"/>
<rect x="580" y="591" width="1" height="41" fill="#c0c0c0"/>
<rect x="588" y="592" width="1" height="40" fill="#c0c0c0"/>
<rect x="596" y="591" width="1" height="41" fill="#c0c0c0"/>
<rect x="604" y="592" width="1" height="40" fill="#c0c0c0"/>
<rect x="612" y="590" width="1" height="42" fill="#c0c0c0"/>
<rect x="620" y="592" width="1" height="40" fill="#c0c0c0"/>
<rect x="628" y="591" width="1" height="41" fill="#c0c0c0"/>
<rect x="636" y="586" width="1" height="46" fill="#c0c0c0"/>
<rect x="644" y="583" width="1" height="49" fill="#c0c0c0"/>
<rect x="652" y="579" width="1" height="53" fill="#c0c0c0"/>
<rect x="660" y="576" width="1" height="56" fill="#c0c0c0"/>
<rect x="668" y="574" width="1" height="58" fill="#c0c0c0"/>
<rect x="676" y="575" width="1" height="57" fill="#c0c0c0"/>
<rect x="684" y="575" width="1" height="57" fill="#c0c0c0"/>
<rect x="692" y="575" width="1" height="57" fill="#c0c0c0"/>
<rect x="700" y="583" width="1" height="49" fill="#c0c0c0"/>
<rect x="708" y="586" width="1" height="46" fill="#c0c0c0"/>
<rect x="716" y="590" width="1" height="42" fill="#c0c0c0"/>
<rect x="724" y="592" width="1" height="40" fill="#c0c0c0"/>
<rect x="732" y="596" width="1" height="36" fill="#c0c0c0"/>
<rect x="740" y="598" width="1" height="34" fill="#c0c0c0"/>
<rect x="748" y="605" width="1" height="27" fill="#c0c0c0"/>
<rect x="756" y="606" width="1" height="26" fill="#c0c0c0"/>
<rect x="764" y="604" width="1" height="28" fill="#c0c0c0"/>
<rect x="772" y="602" width="1" height="30" fill="#c0c0c0"/>
<rect x="780" y="600" width="1" height="32" fill="#c0c0c0"/>
<rect x="788" y="600" width="1" height="32" fill="#c0c0c0"/>
<rect x="796" y="600" width="1" height="32" fill="#c0c0c0"/>
<rect x="804" y="599" width="1" height="33" fill="#c0c0c0"/>
<rect x="812" y="600" width="1" height="32" fill="#c0c0c0"/>
<rect x="820" y="598" width="1" height="34" fill="#c0c0c0"/>
<rect x="828" y="594" width="1" height="38" fill="#c0c0c0"/>
<rect x="836" y="594" width="1" height="38" fill="#c0c0c0"/>
<rect x="844" y="596" width="1" height="36" fill="#c0c0c0"/>
<rect x="852" y="596" width="1" height="36" fill="#c0c0c0"/>
<rect x="860" y="596" width="1" height="36" fill="#c0c0c0"/>
<rect x="868" y="596" width="1" height="36" fill="#c0c0c0"/>
<rect x="876" y="596" width="1" height="36" fill="#c0c0c0"/>
<rect x="884" y="598" width="1" height="34" fill="#c0c0c0"/>
<rect x="892" y="599" width="1" height="33" fill="#c0c0c0"/>
<rect x="900" y="598" width="1" height="34" fill="#c0c0c0"/>
<rect x="908" y="598" width="1" height="34" fill="#c0c0c0"/>
<rect x="916" y="599" width="1" height="33" fill="#c0c0c0"/>
<rect x="924" y="602" width="1" height="30" fill="#c0c0c0"/>
<rect x="932" y="607" width="1" height="25" fill="#c0c0c0"/>
<rect x="940" y="612" width="1" height="20" fill="#c0c0c0"/>
<rect x="948" y="613" width="1" height="19" fill="#c0c0c0"/>
<rect x="956" y="616" width="1" height="16" fill="#c0c0c0"/>
<rect x="964" y="618" width="1" height="14" fill="#c0c0c0"/>
<rect x="972" y="621" width="1" height="11" fill="#c0c0c0"/>
<rect x="980" y="623" width="1" height="9" fill="#c0c0c0"/>
<rect x="988" y="627" width="1" height="5" fill="#c0c0c0"/>
<rect x="996" y="631" width="1" height="8" fill="#c0c0c0"/>
<rect x="1004" y="631" width="1" height="16" fill="#c0c0c0"/>
<rect x="1012" y="631" width="1" height="22" fill="#c0c0c0"/>
<rect x="1020" y="631" width="1" height="27" fill="#c0c0c0"/>
<rect x="1028" y="631" width="1" height="27" fill="#c0c0c0"/>
<rect x="1036" y="631" width="1" height="23" fill="#c0c0c0"/>
<rect x="1044" y="631" width="1" height="21" fill="#c0c0c0"/>
<rect x="1052" y="631" width="1" height="16" fill="#c0c0c0"/>
<rect x="1060" y="631" width="1" height="13" fill="#c0c0c0"/>
<rect x="1068" y="631" width="1" height="10" fill="#c0c0c0"/>
<rect x="1076" y="631" width="1" height="8" fill="#c0c0c0"/>
<rect x="1084" y="631" width="1" height="7" fill="#c0c0c0"/>
<rect x="1092" y="631" width="1" height="13" fill="#c0c0c0"/>
<rect x="1100" y="631" width="1" height="15" fill="#c0c0c0"/>
<rect x="1108" y="631" width="1" height="20" fill="#c0c0c0"/>
<rect x="1116" y="631" width="1" height="22" fill="#c0c0c0"/>
<rect x="1124" y="631" width="1" height="18" fill="#c0c0c0"/>
<rect x="1132" y="631" width="1" height="15" fill="#c0c0c0"/>
<rect x="1140" y="631" width="1" height="11" fill="#c0c0c0"/>
<rect x="1148" y="631" width="1" height="11" fill="#c0c0c0"/>
<rect x="1156" y="631" width="1" height="12" fill="#c0c0c0"/>
<rect x="1164" y="631" width="1" height="13" fill="#c0c0c0"/>
<rect x="1172" y="631" width="1" height="16" fill="#c0c0c0"/>
<rect x="1180" y="631" width="1" height="18" fill="#c0c0c0"/>
<rect x="1188" y="631" width="1" height="10" fill="#c0c0c0"/>
<rect x="1196" y="631" width="1" height="4" fill="#c0c0c0"/>
<rect x="1204" y="631" width="1" height="1" fill="#c0c0c0"/>
<rect x="1212" y="630" width="1" height="2" fill="#c0c0c0"/>
<rect x="1220" y="630" width="1" height="2" fill="#c0c0c0"/>
<rect x="1228" y="630" width="1" height="2" fill="#c0c0c0"/>
<rect x="1236" y="629" width="1" height="3" fill="#c0c0c0"/>
<rect x="1268" y="631" width="1" height="5" fill="#c0c0c0"/>
<rect x="1276" y="631" width="1" height="3" fill="#c0c0c0"/>
<rect x="1284" y="631" width="1" height="7" fill="#c0c0c0"/>
<rect x="1292" y="631" width="1" height="10" fill="#c0c0c0"/>
<rect x="1300" y="631" width="1" height="13" fill="#c0c0c0"/>
<rect x="1308" y="631" width="1" height="14" fill="#c0c0c0"/>
<rect x="1316" y="631" width="1" height="17" fill="#c0c0c0"/>
<rect x="1324" y="631" width="1" height="23" fill="#c0c0c0"/>
<rect x="1332" y="631" width="1" height="36" fill="#c0c0c0"/>
<rect x="1340" y="631" width="1" height="47" fill="#c0c0c0"/>
<rect x="1348" y="631" width="1" height="59" fill="#c0c0c0"/>
<rect x="1356" y="631" width="1" height="66" fill="#c0c0c0"/>
<rect x="1364" y="631" width="1" height="75" fill="#c0c0c0"/>
<rect x="1372" y="631" width="1" height="88" fill="#c0c0c0"/>
<rect x="1380" y="631" width="1" height="98" fill="#c0c0c0"/>
<rect x="1388" y="631" width="1" height="108" fill="#c0c0c0"/>
<rect x="1396" y="631" width="1" height="113" fill="#c0c0c0"/>
<rect x="1404" y="631" width="1" height="111" fill="#c0c0c0"/>
<rect x="1412" y="631" width="1" height="111" fill="#c0c0c0"/>
<rect x="1420" y="631" width="1" height="118" fill="#c0c0c0"/>
<rect x="1428" y="631" width="1" height="126" fill="#c0c0c0"/>
<rect x="1436" y="631" width="1" height="134" fill="#c0c0c0"/>
<rect x="1444" y="631" width="1" height="138" fill="#c0c0c0"/>
<rect x="1452" y="631" width="1" height="140" fill="#c0c0c0"/>
<polyline points="0.0,670.5 12.4,670.0 24.8,668.0 37.3,666.3 52.2,661.8 67.0,654.4 84.5,652.4 99.4,655.6 114.3,661.8 129.2,673.0 144.0,684.2 159.0,692.4 173.9,696.6 186.3,697.3 198.7,696.0 213.6,692.4 228.5,688.6 238.5,684.2 253.4,680.4 268.3,674.2 283.0,671.2 298.0,670.5 313.0,671.7 327.9,674.7 342.8,680.0 357.7,684.2 372.6,685.4 387.5,682.4 402.4,678.0 415.0,671.7 432.3,663.0 449.7,651.9 459.6,644.4 469.5,633.2 484.5,615.9 499.4,601.0 509.3,592.3 516.7,587.3 531.6,585.3 546.5,588.0 556.5,592.3 571.4,594.7 588.8,597.2 598.7,596.7 611.0,594.2 628.5,591.5 641.0,589.8 650.9,587.3 668.3,584.8 683.0,580.6 693.0,578.6 720.4,578.6 727.9,581.0 740.3,584.8 752.7,589.8 765.0,593.5 777.5,598.5 792.4,600.2 822.4,600.2 832.3,597.7 849.7,596.2 869.5,595.2 894.4,595.2 899.4,596.5 919.2,596.5 934.0,598.5 949.0,602.2 964.0,605.9 978.8,610.0 991.3,615.9 1003.7,623.3 1016.0,629.5 1028.5,638.2 1041.0,644.4 1050.9,648.0 1065.8,651.4 1073.2,650.6 1083.0,648.0 1098.0,645.7 1122.9,645.7 1147.7,646.2 1180.0,646.4 1197.4,643.2 1215.0,639.5 1232.3,636.2 1249.7,631.5 1264.6,630.0 1279.5,631.3 1294.4,633.2 1309.3,637.0 1324.2,640.7 1339.0,648.9 1354.0,660.6 1368.9,675.5 1381.3,689.0 1391.3,701.5 1401.2,712.7 1413.6,723.9 1426.0,735.0 1438.5,745.0 1452.4,752.5" fill="none" stroke="#ff0000" stroke-width="1" stroke-dasharray="3,3"/>
<line x1="1" y1="813.5" x2="1647" y2="813.5" stroke="#c0c0c0" stroke-width="1" stroke-dasharray="3,3"/>
<line x1="1" y1="855.5" x2="1647" y2="855.5" stroke="#c0c0c0" stroke-width="1" stroke-dasharray="3,3"/>
<line x1="1" y1="904.5" x2="1647" y2="904.5" stroke="#c0c0c0" stroke-width="1" stroke-dasharray="3,3"/>
<polyline points="-3.5,870.2 4.5,870.8 12.5,873.7 20.5,864.3 28.5,865.8 36.5,870.0 44.5,841.2 52.5,841.2 60.5,849.5 68.5,856.4 76.5,877.4 84.5,883.4 92.5,876.2 100.5,877.4 108.5,875.0 116.5,881.2 124.5,876.2 132.5,875.0 140.5,876.2 148.5,877.4 156.5,881.2 164.5,882.4 172.5,864.3 180.5,869.3 188.5,869.3 196.5,868.0 204.5,861.0 212.5,869.3 220.5,865.0 228.5,869.3 236.5,867.3 244.5,869.8 252.5,864.3 260.5,860.6 268.5,858.1 276.5,866.8 284.5,877.4 292.5,878.4 300.5,879.7 308.5,882.2 316.5,883.4 324.5,883.4 332.5,883.4 340.5,879.2 348.5,875.0 356.5,875.0 364.5,880.4 372.5,863.6 380.5,863.6 388.5,859.3 396.5,863.8 404.5,868.5 412.5,857.6 420.5,853.9 428.5,843.2 436.5,842.0 444.5,840.0 452.5,825.9 460.5,818.9 468.5,823.4 476.5,822.2 484.5,821.4 492.5,826.4 500.5,846.2 508.5,842.0 516.5,848.2 524.5,858.6 532.5,857.4 540.5,850.2 548.5,850.2 556.5,841.5 564.5,832.0 572.5,833.8 580.5,840.7 588.5,844.5 596.5,841.2 604.5,842.5 612.5,838.3 620.5,843.2 628.5,838.3 636.5,832.6 644.5,831.3 652.5,828.4 660.5,829.6 668.5,828.4 676.5,832.6 684.5,832.6 692.5,829.0 700.5,853.6 708.5,844.5 716.5,846.4 724.5,845.2 732.5,847.4 740.5,846.4 748.5,858.6 756.5,848.2 764.5,841.2 772.5,840.0 780.5,839.5 788.5,839.5 796.5,838.3 804.5,842.3 812.5,838.5 820.5,835.5 828.5,829.6 836.5,838.3 844.5,840.3 852.5,841.5 860.5,838.3 868.5,839.5 876.5,834.5 884.5,843.2 892.5,839.0 900.5,835.3 908.5,836.3 916.5,840.3 924.5,850.2 932.5,853.6 940.5,858.6 948.5,848.2 956.5,854.9 964.5,853.1 972.5,857.4 980.5,857.6 988.5,863.0 996.5,883.4 1004.5,879.2 1012.5,879.2 1020.5,880.4 1028.5,865.0 1036.5,857.6 1044.5,857.4 1052.5,853.6 1060.5,852.4 1068.5,853.6 1076.5,853.6 1084.5,856.9 1092.5,873.5 1100.5,870.5 1108.5,873.5 1116.5,871.2 1124.5,855.1 1132.5,850.7 1140.5,856.4 1148.5,858.6 1156.5,861.0 1164.5,865.0 1172.5,871.2 1180.5,867.3 1188.5,843.7 1196.5,843.7 1204.5,845.7 1212.5,850.2 1220.5,855.0 1228.5,855.6 1236.5,852.7 1244.5,858.6 1252.5,857.4 1260.5,857.4 1268.5,868.0 1276.5,856.4 1284.5,862.6 1292.5,867.3 1300.5,866.3 1308.5,865.5 1316.5,871.2 1324.5,877.2 1332.5,891.1 1340.5,892.3 1348.5,896.0 1356.5,892.8 1364.5,896.5 1372.5,902.2 1380.5,900.3 1388.5,902.2 1396.5,897.8 1404.5,888.6 1412.5,887.4 1420.5,896.5 1428.5,899.5 1436.5,901.5 1444.5,899.0 1452.5,898.5" fill="none" stroke="#1e90ff" stroke-width="1"/>
<g shape-rendering="auto"><line x1="1360.2" y1="317.0" x2="1459.0" y2="520.7" stroke="#ff0000" stroke-width="2.9"/><polygon points="1464.0,531.0 1454.9,522.6 1463.0,518.7" fill="#ff0000"/></g>
<g shape-rendering="auto"><line x1="1364.4" y1="714.4" x2="1451.4" y2="761.0" stroke="#ff0000" stroke-width="3.3"/><polygon points="1462.0,766.7 1449.4,764.7 1453.4,757.3" fill="#ff0000"/></g>
<g shape-rendering="auto"><line x1="1346.0" y1="895.5" x2="1438.0" y2="895.5" stroke="#ff0000" stroke-width="3"/><polygon points="1449.0,895.5 1438.0,899.8 1438.0,891.2" fill="#ff0000"/></g>
<rect x="757.5" y="57.5" width="61" height="18" fill="#fff" stroke="#ff0000" stroke-width="1"/>
<text x="788.1" y="73.3" font-size="17.3" fill="#ff0000" text-anchor="middle" textLength="57.3" lengthAdjust="spacingAndGlyphs">1.26660</text>
<rect x="819" y="66" width="10" height="1" fill="#ff0000"/>
<rect x="1125.5" y="100.5" width="61" height="18" fill="#fff" stroke="#ff0000" stroke-width="1"/>
<text x="1156.1" y="116.3" font-size="17.3" fill="#ff0000" text-anchor="middle" textLength="57.3" lengthAdjust="spacingAndGlyphs">1.25990</text>
<rect x="1187" y="109" width="10" height="1" fill="#ff0000"/>
<rect x="1239.5" y="462.5" width="73" height="24" fill="#fff" stroke="#ff0000" stroke-width="1"/>
<text x="1276.1" y="483" font-size="23.2" fill="#ff0000" text-anchor="middle" textLength="68.6" lengthAdjust="spacingAndGlyphs">1.20233</text>
<rect x="1229" y="474" width="9" height="1" fill="#ff0000"/>
<rect x="1236.5" y="472.5" width="2" height="3" fill="#fff" stroke="#ff0000" stroke-width="1"/>
<rect x="1365.5" y="522.5" width="61" height="18" fill="#fff" stroke="#ff0000" stroke-width="1"/>
<text x="1396.1" y="538.3" font-size="17.3" fill="#ff0000" text-anchor="middle" textLength="57.3" lengthAdjust="spacingAndGlyphs">1.19332</text>
<rect x="1427" y="531" width="10" height="1" fill="#ff0000"/>
<rect x="1427.5" y="529.5" width="2" height="3" fill="#fff" stroke="#ff0000" stroke-width="1"/>
<rect x="0" y="25" width="1648" height="1" fill="#000"/>
<rect x="1647" y="25" width="1" height="902" fill="#000"/>
<rect x="0" y="560" width="1648" height="1" fill="#000"/>
<rect x="0" y="562" width="1648" height="1" fill="#000"/>
<rect x="0" y="781" width="1648" height="1" fill="#000"/>
<rect x="0" y="783" width="1648" height="1" fill="#000"/>
<rect x="0" y="926" width="1648" height="1" fill="#000"/>
<rect x="1647" y="561" width="1" height="1" fill="#fff"/>
<rect x="1647" y="782" width="1" height="1" fill="#fff"/>
<rect x="1693" y="21" width="1" height="925" fill="#e3e7ec"/>
<g clip-path="url(#cax1)">
<rect x="1648" y="29" width="2" height="1" fill="#000"/>
<text x="1653.5" y="33.1" font-size="9.8" fill="#000" textLength="32.5" lengthAdjust="spacingAndGlyphs">1.27250</text>
<rect x="1648" y="62" width="2" height="1" fill="#000"/>
<text x="1653.5" y="66.1" font-size="9.8" fill="#000" textLength="32.5" lengthAdjust="spacingAndGlyphs">1.26725</text>
<rect x="1648" y="95" width="2" height="1" fill="#000"/>
<text x="1653.5" y="99.1" font-size="9.8" fill="#000" textLength="32.5" lengthAdjust="spacingAndGlyphs">1.26215</text>
<rect x="1648" y="128" width="2" height="1" fill="#000"/>
<text x="1653.5" y="132.1" font-size="9.8" fill="#000" textLength="32.5" lengthAdjust="spacingAndGlyphs">1.25690</text>
<rect x="1648" y="161" width="2" height="1" fill="#000"/>
<text x="1653.5" y="165.1" font-size="9.8" fill="#000" textLength="32.5" lengthAdjust="spacingAndGlyphs">1.25165</text>
<rect x="1648" y="194" width="2" height="1" fill="#000"/>
<text x="1653.5" y="198.1" font-size="9.8" fill="#000" textLength="32.5" lengthAdjust="spacingAndGlyphs">1.24640</text>
<rect x="1648" y="227" width="2" height="1" fill="#000"/>
<text x="1653.5" y="231.1" font-size="9.8" fill="#000" textLength="32.5" lengthAdjust="spacingAndGlyphs">1.24130</text>
<rect x="1648" y="260" width="2" height="1" fill="#000"/>
<text x="1653.5" y="264.1" font-size="9.8" fill="#000" textLength="32.5" lengthAdjust="spacingAndGlyphs">1.23605</text>
<rect x="1648" y="293" width="2" height="1" fill="#000"/>
<text x="1653.5" y="297.1" font-size="9.8" fill="#000" textLength="32.5" lengthAdjust="spacingAndGlyphs">1.23080</text>
<rect x="1648" y="326" width="2" height="1" fill="#000"/>
<text x="1653.5" y="330.1" font-size="9.8" fill="#000" textLength="32.5" lengthAdjust="spacingAndGlyphs">1.22570</text>
<rect x="1648" y="359" width="2" height="1" fill="#000"/>
<text x="1653.5" y="363.1" font-size="9.8" fill="#000" textLength="32.5" lengthAdjust="spacingAndGlyphs">1.22045</text>
<rect x="1648" y="392" width="2" height="1" fill="#000"/>
<text x="1653.5" y="396.1" font-size="9.8" fill="#000" textLength="32.5" lengthAdjust="spacingAndGlyphs">1.21520</text>
<rect x="1648" y="425" width="2" height="1" fill="#000"/>
<text x="1653.5" y="429.1" font-size="9.8" fill="#000" textLength="32.5" lengthAdjust="spacingAndGlyphs">1.20995</text>
<rect x="1648" y="458" width="2" height="1" fill="#000"/>
<text x="1653.5" y="462.1" font-size="9.8" fill="#000" textLength="32.5" lengthAdjust="spacingAndGlyphs">1.20485</text>
<rect x="1648" y="557" width="2" height="1" fill="#000"/>
<text x="1653.5" y="561.1" font-size="9.8" fill="#000" textLength="32.5" lengthAdjust="spacingAndGlyphs">1.18925</text>
</g>
<rect x="1649" y="408" width="41" height="11" fill="#ff4500"/>
<text x="1653.5" y="417.1" font-size="9.8" fill="#fff" textLength="32.5" lengthAdjust="spacingAndGlyphs">1.21179</text>
<rect x="1649" y="441" width="41" height="11" fill="#ff0000"/>
<text x="1653.5" y="450.1" font-size="9.8" fill="#fff" textLength="32.5" lengthAdjust="spacingAndGlyphs">1.20662</text>
<rect x="1649" y="468" width="41" height="11" fill="#32cd32"/>
<text x="1653.5" y="477.1" font-size="9.8" fill="#fff" textLength="32.5" lengthAdjust="spacingAndGlyphs">1.20233</text>
<rect x="1649" y="485" width="41" height="11" fill="#000"/>
<text x="1653.5" y="494.1" font-size="9.8" fill="#fff" textLength="32.5" lengthAdjust="spacingAndGlyphs">1.19966</text>
<rect x="1649" y="519" width="41" height="11" fill="#0000ff"/>
<text x="1653.5" y="528.1" font-size="9.8" fill="#fff" textLength="32.5" lengthAdjust="spacingAndGlyphs">1.19421</text>
<rect x="1649" y="546" width="41" height="11" fill="#0000ff"/>
<text x="1653.5" y="555.1" font-size="9.8" fill="#fff" textLength="32.5" lengthAdjust="spacingAndGlyphs">1.19006</text>
<text x="1651" y="572.9" font-size="9.8" fill="#000" textLength="38" lengthAdjust="spacingAndGlyphs">0.006126</text>
<text x="1651" y="635.4" font-size="9.8" fill="#000" textLength="17.5" lengthAdjust="spacingAndGlyphs">0.00</text>
<text x="1651" y="777.9" font-size="9.8" fill="#000" textLength="41" lengthAdjust="spacingAndGlyphs">-0.013489</text>
<rect x="1648" y="564" width="1" height="1" fill="#000"/>
<rect x="1648" y="631" width="1" height="1" fill="#000"/>
<text x="1651" y="793.9" font-size="9.8" fill="#000" textLength="15.0" lengthAdjust="spacingAndGlyphs">100</text>
<text x="1651" y="816.9" font-size="9.8" fill="#000" textLength="10.0" lengthAdjust="spacingAndGlyphs">80</text>
<text x="1651" y="858.9" font-size="9.8" fill="#000" textLength="10.0" lengthAdjust="spacingAndGlyphs">50</text>
<text x="1651" y="908.4" font-size="9.8" fill="#000" textLength="10.0" lengthAdjust="spacingAndGlyphs">15</text>
<text x="1651" y="922.9" font-size="9.8" fill="#000" textLength="5.0" lengthAdjust="spacingAndGlyphs">0</text>
<rect x="1648" y="925" width="1" height="1" fill="#000"/>
<text x="3" y="37" font-size="9.8" fill="#000" textLength="203.5" lengthAdjust="spacingAndGlyphs">GBPUSD-,H4  1.19953 1.19968 1.19952 1.19966</text>
<text x="-7.5" y="575" font-size="9.8" fill="#000" textLength="152" lengthAdjust="spacingAndGlyphs">MACD(12,26,9) -0.012598 -0.011011</text>
<text x="-6.5" y="796" font-size="9.8" fill="#000" textLength="66.5" lengthAdjust="spacingAndGlyphs">RSI(14) 19.7589</text>
<rect x="-12" y="927" width="1" height="3" fill="#000"/>
<text x="-12.8" y="939" font-size="9.8" fill="#000" textLength="50.5" lengthAdjust="spacingAndGlyphs">3 May 2022</text>
<rect x="52" y="927" width="1" height="3" fill="#000"/>
<text x="51.2" y="939" font-size="9.8" fill="#000" textLength="53" lengthAdjust="spacingAndGlyphs">4 May 20:00</text>
<rect x="116" y="927" width="1" height="3" fill="#000"/>
<text x="115.2" y="939" font-size="9.8" fill="#000" textLength="53" lengthAdjust="spacingAndGlyphs">6 May 04:00</text>
<rect x="180" y="927" width="1" height="3" fill="#000"/>
<text x="179.2" y="939" font-size="9.8" fill="#000" textLength="53" lengthAdjust="spacingAndGlyphs">9 May 12:00</text>
<rect x="244" y="927" width="1" height="3" fill="#000"/>
<text x="243.2" y="939" font-size="9.8" fill="#000" textLength="57.4" lengthAdjust="spacingAndGlyphs">10 May 20:00</text>
<rect x="308" y="927" width="1" height="3" fill="#000"/>
<text x="307.2" y="939" font-size="9.8" fill="#000" textLength="57.4" lengthAdjust="spacingAndGlyphs">12 May 04:00</text>
<rect x="372" y="927" width="1" height="3" fill="#000"/>
<text x="371.2" y="939" font-size="9.8" fill="#000" textLength="57.4" lengthAdjust="spacingAndGlyphs">13 May 12:00</text>
<rect x="436" y="927" width="1" height="3" fill="#000"/>
<text x="435.2" y="939" font-size="9.8" fill="#000" textLength="57.4" lengthAdjust="spacingAndGlyphs">16 May 20:00</text>
<rect x="500" y="927" width="1" height="3" fill="#000"/>
<text x="499.2" y="939" font-size="9.8" fill="#000" textLength="57.4" lengthAdjust="spacingAndGlyphs">18 May 04:00</text>
<rect x="564" y="927" width="1" height="3" fill="#000"/>
<text x="563.2" y="939" font-size="9.8" fill="#000" textLength="57.4" lengthAdjust="spacingAndGlyphs">19 May 12:00</text>
<rect x="628" y="927" width="1" height="3" fill="#000"/>
<text x="627.2" y="939" font-size="9.8" fill="#000" textLength="57.4" lengthAdjust="spacingAndGlyphs">22 May 23:00</text>
<rect x="692" y="927" width="1" height="3" fill="#000"/>
<text x="691.2" y="939" font-size="9.8" fill="#000" textLength="57.4" lengthAdjust="spacingAndGlyphs">24 May 04:00</text>
<rect x="756" y="927" width="1" height="3" fill="#000"/>
<text x="755.2" y="939" font-size="9.8" fill="#000" textLength="57.4" lengthAdjust="spacingAndGlyphs">25 May 12:00</text>
<rect x="820" y="927" width="1" height="3" fill="#000"/>
<text x="819.2" y="939" font-size="9.8" fill="#000" textLength="57.4" lengthAdjust="spacingAndGlyphs">26 May 20:00</text>
<rect x="884" y="927" width="1" height="3" fill="#000"/>
<text x="883.2" y="939" font-size="9.8" fill="#000" textLength="57.4" lengthAdjust="spacingAndGlyphs">30 May 04:00</text>
<rect x="948" y="927" width="1" height="3" fill="#000"/>
<text x="947.2" y="939" font-size="9.8" fill="#000" textLength="57.4" lengthAdjust="spacingAndGlyphs">31 May 12:00</text>
<rect x="1012" y="927" width="1" height="3" fill="#000"/>
<text x="1011.2" y="939" font-size="9.8" fill="#000" textLength="47.2" lengthAdjust="spacingAndGlyphs">1 Jun 20:00</text>
<rect x="1076" y="927" width="1" height="3" fill="#000"/>
<text x="1075.2" y="939" font-size="9.8" fill="#000" textLength="47.2" lengthAdjust="spacingAndGlyphs">3 Jun 04:00</text>
<rect x="1140" y="927" width="1" height="3" fill="#000"/>
<text x="1139.2" y="939" font-size="9.8" fill="#000" textLength="47.2" lengthAdjust="spacingAndGlyphs">6 Jun 12:00</text>
<rect x="1204" y="927" width="1" height="3" fill="#000"/>
<text x="1203.2" y="939" font-size="9.8" fill="#000" textLength="47.2" lengthAdjust="spacingAndGlyphs">7 Jun 20:00</text>
<rect x="1268" y="927" width="1" height="3" fill="#000"/>
<text x="1267.2" y="939" font-size="9.8" fill="#000" textLength="47.2" lengthAdjust="spacingAndGlyphs">9 Jun 04:00</text>
<rect x="1332" y="927" width="1" height="3" fill="#000"/>
<text x="1331.2" y="939" font-size="9.8" fill="#000" textLength="52.2" lengthAdjust="spacingAndGlyphs">10 Jun 12:00</text>
<rect x="1396" y="927" width="1" height="3" fill="#000"/>
<text x="1395.2" y="939" font-size="9.8" fill="#000" textLength="52.2" lengthAdjust="spacingAndGlyphs">13 Jun 20:00</text>
<defs>
<pattern id="chk" width="2" height="2" patternUnits="userSpaceOnUse"><rect width="2" height="2" fill="#f0f0f0"/><rect width="1" height="1" fill="#fff"/><rect x="1" y="1" width="1" height="1" fill="#fff"/></pattern>
<linearGradient id="ggold" x1="0" y1="0" x2="0.6" y2="1"><stop offset="0" stop-color="#fbe04a"/><stop offset="0.6" stop-color="#e8b418"/><stop offset="1" stop-color="#d08c0c"/></linearGradient>
<radialGradient id="ggreen" cx="0.4" cy="0.35" r="0.7"><stop offset="0" stop-color="#7dff7d"/><stop offset="0.55" stop-color="#1fd81f"/><stop offset="1" stop-color="#0e9a0e"/></radialGradient>
<linearGradient id="gcloud" x1="0" y1="0" x2="0" y2="1"><stop offset="0" stop-color="#ffffff"/><stop offset="1" stop-color="#b8c8e0"/></linearGradient>
<linearGradient id="ghat" x1="0" y1="0" x2="0" y2="1"><stop offset="0" stop-color="#7cc4ee"/><stop offset="1" stop-color="#3a8ccc"/></linearGradient>
<linearGradient id="gface" x1="0" y1="0" x2="1" y2="1"><stop offset="0" stop-color="#ffe84a"/><stop offset="1" stop-color="#f0b818"/></linearGradient>
<radialGradient id="gclock" cx="0.4" cy="0.3" r="0.8"><stop offset="0" stop-color="#4aa4ff"/><stop offset="1" stop-color="#0a4cb0"/></radialGradient>
<linearGradient id="gsweep" x1="0" y1="1" x2="1" y2="0"><stop offset="0" stop-color="#22aa22"/><stop offset="1" stop-color="#cfe8cf" stop-opacity="0.6"/></linearGradient>
</defs>
<rect x="0" y="0" width="1694" height="21" fill="#f0f0f0"/>
<rect x="0" y="20" width="1694" height="1" fill="#f8f8f8"/>
<rect x="0" y="21" width="1694" height="1" fill="#a0a0a0"/>
<rect x="0" y="22" width="1694" height="1" fill="#696969"/>
<rect x="0" y="16" width="1" height="2" fill="#d8a040"/>
<rect x="8" y="0" width="1" height="19" fill="#a0a0a0"/>
<rect x="244" y="0" width="1" height="21" fill="#a0a0a0"/>
<rect x="245" y="0" width="1" height="21" fill="#fff"/>
<rect x="248" y="1" width="3" height="1" fill="#a0a0a0"/>
<rect x="248" y="3" width="3" height="1" fill="#a0a0a0"/>
<rect x="248" y="5" width="3" height="1" fill="#a0a0a0"/>
<rect x="248" y="7" width="3" height="1" fill="#a0a0a0"/>
<rect x="248" y="9" width="3" height="1" fill="#a0a0a0"/>
<rect x="248" y="11" width="3" height="1" fill="#a0a0a0"/>
<rect x="248" y="13" width="3" height="1" fill="#a0a0a0"/>
<rect x="248" y="15" width="3" height="1" fill="#a0a0a0"/>
<rect x="248" y="17" width="3" height="1" fill="#a0a0a0"/>
<rect x="339" y="0" width="1" height="19" fill="#a0a0a0"/>
<rect x="429" y="0" width="1" height="19" fill="#a0a0a0"/>
<rect x="491" y="0" width="1" height="19" fill="#a0a0a0"/>
<rect x="612" y="0" width="1" height="21" fill="#a0a0a0"/>
<rect x="613" y="0" width="1" height="21" fill="#fff"/>
<rect x="616" y="1" width="3" height="1" fill="#a0a0a0"/>
<rect x="616" y="3" width="3" height="1" fill="#a0a0a0"/>
<rect x="616" y="5" width="3" height="1" fill="#a0a0a0"/>
<rect x="616" y="7" width="3" height="1" fill="#a0a0a0"/>
<rect x="616" y="9" width="3" height="1" fill="#a0a0a0"/>
<rect x="616" y="11" width="3" height="1" fill="#a0a0a0"/>
<rect x="616" y="13" width="3" height="1" fill="#a0a0a0"/>
<rect x="616" y="15" width="3" height="1" fill="#a0a0a0"/>
<rect x="616" y="17" width="3" height="1" fill="#a0a0a0"/>
<rect x="679" y="0" width="1" height="19" fill="#a0a0a0"/>
<rect x="918" y="0" width="1" height="21" fill="#a0a0a0"/>
<rect x="919" y="0" width="1" height="21" fill="#fff"/>
<rect x="922" y="1" width="3" height="1" fill="#a0a0a0"/>
<rect x="922" y="3" width="3" height="1" fill="#a0a0a0"/>
<rect x="922" y="5" width="3" height="1" fill="#a0a0a0"/>
<rect x="922" y="7" width="3" height="1" fill="#a0a0a0"/>
<rect x="922" y="9" width="3" height="1" fill="#a0a0a0"/>
<rect x="922" y="11" width="3" height="1" fill="#a0a0a0"/>
<rect x="922" y="13" width="3" height="1" fill="#a0a0a0"/>
<rect x="922" y="15" width="3" height="1" fill="#a0a0a0"/>
<rect x="922" y="17" width="3" height="1" fill="#a0a0a0"/>
<rect x="1179" y="0" width="1" height="21" fill="#a0a0a0"/>
<rect x="1180" y="0" width="1" height="21" fill="#fff"/>
<rect x="282" y="0" width="1" height="19" fill="#a0a0a0"/>
<rect x="283" y="0" width="24" height="19" fill="url(#chk)"/>
<rect x="307" y="0" width="1" height="20" fill="#fff"/>
<rect x="282" y="19" width="26" height="1" fill="#fff"/>
<rect x="434" y="0" width="1" height="19" fill="#a0a0a0"/>
<rect x="435" y="0" width="24" height="19" fill="url(#chk)"/>
<rect x="459" y="0" width="1" height="20" fill="#fff"/>
<rect x="434" y="19" width="26" height="1" fill="#fff"/>
<rect x="462" y="0" width="1" height="19" fill="#a0a0a0"/>
<rect x="463" y="0" width="24" height="19" fill="url(#chk)"/>
<rect x="487" y="0" width="1" height="20" fill="#fff"/>
<rect x="462" y="19" width="26" height="1" fill="#fff"/>
<rect x="622" y="0" width="1" height="19" fill="#a0a0a0"/>
<rect x="623" y="0" width="24" height="19" fill="url(#chk)"/>
<rect x="647" y="0" width="1" height="20" fill="#fff"/>
<rect x="622" y="19" width="26" height="1" fill="#fff"/>
<rect x="1068" y="0" width="1" height="19" fill="#a0a0a0"/>
<rect x="1069" y="0" width="24" height="19" fill="url(#chk)"/>
<rect x="1093" y="0" width="1" height="20" fill="#fff"/>
<rect x="1068" y="19" width="26" height="1" fill="#fff"/>
<rect x="262" y="3" width="1" height="14" fill="#555"/>
<rect x="260" y="14" width="14" height="1" fill="#555"/>
<rect x="261" y="4" width="1" height="1" fill="#555"/>
<rect x="263" y="4" width="1" height="1" fill="#555"/>
<rect x="272" y="13" width="1" height="1" fill="#555"/>
<rect x="272" y="15" width="1" height="1" fill="#555"/>
<rect x="268" y="4" width="1" height="9" fill="#0a8a0a"/>
<rect x="268" y="5" width="3" height="1" fill="#0a8a0a"/>
<rect x="266" y="11" width="3" height="1" fill="#0a8a0a"/>
<rect x="290" y="3" width="1" height="14" fill="#555"/>
<rect x="288" y="14" width="14" height="1" fill="#555"/>
<rect x="289" y="4" width="1" height="1" fill="#555"/>
<rect x="291" y="4" width="1" height="1" fill="#555"/>
<rect x="300" y="13" width="1" height="1" fill="#555"/>
<rect x="300" y="15" width="1" height="1" fill="#555"/>
<rect x="318" y="3" width="1" height="14" fill="#555"/>
<rect x="316" y="14" width="14" height="1" fill="#555"/>
<rect x="317" y="4" width="1" height="1" fill="#555"/>
<rect x="319" y="4" width="1" height="1" fill="#555"/>
<rect x="328" y="13" width="1" height="1" fill="#555"/>
<rect x="328" y="15" width="1" height="1" fill="#555"/>
<rect x="442" y="3" width="1" height="14" fill="#555"/>
<rect x="440" y="14" width="14" height="1" fill="#555"/>
<rect x="441" y="4" width="1" height="1" fill="#555"/>
<rect x="443" y="4" width="1" height="1" fill="#555"/>
<rect x="452" y="13" width="1" height="1" fill="#555"/>
<rect x="452" y="15" width="1" height="1" fill="#555"/>
<rect x="470" y="3" width="1" height="14" fill="#555"/>
<rect x="468" y="14" width="14" height="1" fill="#555"/>
<rect x="469" y="4" width="1" height="1" fill="#555"/>
<rect x="471" y="4" width="1" height="1" fill="#555"/>
<rect x="480" y="13" width="1" height="1" fill="#555"/>
<rect x="480" y="15" width="1" height="1" fill="#555"/>
<rect x="476" y="3" width="1" height="10" fill="#1878a8"/>
<g shape-rendering="auto">
<path d="M20,1.6 h6.2 l3.3,3.3 v8.6 q0,1.2 -1.2,1.2 h-8.3 q-1.2,0 -1.2,-1.2 v-10.7 q0,-1.2 1.2,-1.2z" fill="#fff" stroke="#6a6a6a" stroke-width="1"/><path d="M26.2,1.6 v3.3 h3.3" fill="#e8e8e8" stroke="#6a6a6a" stroke-width="0.8"/><path d="M20.5,4h2.5M20.5,7.5h5M20.5,9.5h4M20.5,11.5h2" stroke="#8a8a8a" stroke-width="1"/>
<path d="M26.3,7.3 h3.8 v3.9 h3.9 v3.8 h-3.9 v3.9 h-3.8 v-3.9 h-3.9 v-3.8 h3.9z" fill="url(#ggreen)" stroke="#0a8a0a" stroke-width="0.9"/>
<text x="37.2" y="12.3" font-size="12" fill="#000" textLength="35.8" lengthAdjust="spacingAndGlyphs">新订单</text>
<path d="M90.8,2.2 L100.6,8.6 L100.4,10.6 L92.8,16.8 L85.1,11.4 L85.3,10 Z" fill="url(#ggold)" stroke="#a8680c" stroke-width="1" stroke-linejoin="round"/><path d="M92.8,16.8 L100.4,10.6 M92.6,15 L100.4,8.8 M85.3,10 L92.6,15" stroke="#b87c10" stroke-width="0.8" fill="none"/><path d="M93.3,15.3 L100,9.8 L100,10.6 L93.2,16.2Z" fill="#f4e8b8"/>
<path d="M115.8,2.2 L119.5,1.2 H125.5 L126,2 V10 H115.8Z" fill="#1a9cf4" stroke="#1478d0" stroke-width="0.7"/><path d="M116.3,2.5 L119.3,5 V10" stroke="#d8f0ff" stroke-width="0.9" fill="none"/><rect x="120.5" y="4.5" width="4.5" height="1.6" fill="#e8f6ff"/><rect x="120.5" y="7.2" width="3" height="1.2" fill="#bfe2ff"/>
<path d="M116,16.5 a2.6,2.6 0 0 1 -0.3,-5.2 a3,3 0 0 1 4.3,-1.6 a3.4,3.4 0 0 1 5.6,1 a2.9,2.9 0 0 1 0.4,5.8z" fill="url(#gcloud)" stroke="#5272a8" stroke-width="0.9"/>
<path d="M148.9,8.9 L148.9,17 A8.1,8.1 0 0 0 155.6,4.4 Z" fill="url(#gsweep)"/>
<circle cx="148.9" cy="8.9" r="3.4" fill="none" stroke="#3a6fd0" stroke-opacity="0.9" stroke-width="1" stroke-dasharray="7.5,1.7"/>
<circle cx="148.9" cy="8.9" r="5.7" fill="none" stroke="#5a88d8" stroke-opacity="0.7" stroke-width="1" stroke-dasharray="12.5,2.9"/>
<circle cx="148.9" cy="8.9" r="7.9" fill="none" stroke="#7fa0e0" stroke-opacity="0.55" stroke-width="1" stroke-dasharray="17.4,4.0"/>
<circle cx="148.9" cy="8.6" r="1.9" fill="#2a5cc8"/><path d="M149.2,9 V17" stroke="#1fa01f" stroke-width="1.3"/>
<path d="M168.6,8.6 L175.7,16.9 L183.4,8.6 Q176,11 168.6,8.6Z" fill="url(#gface)" stroke="#c89410" stroke-width="0.7"/>
<ellipse cx="176" cy="6" rx="7.9" ry="2.7" fill="url(#ghat)" stroke="#2f80b8" stroke-width="0.7"/><path d="M172.2,5.6 Q172,1.1 176,1.1 Q179.8,1.1 179.6,5.6 Q176,7 172.2,5.6Z" fill="url(#ghat)" stroke="#2f80b8" stroke-width="0.7"/>
<circle cx="180.6" cy="12.6" r="4.2" fill="#e62a10"/><circle cx="180.6" cy="12.6" r="4.2" fill="none" stroke="#c01a08" stroke-width="0.6"/><rect x="179" y="11" width="3.2" height="3.2" fill="#fff"/>
<text x="190" y="12.3" font-size="12" fill="#000" textLength="46.5" lengthAdjust="spacingAndGlyphs">自动交易</text>
<path d="M296.5,1V13" stroke="#0a7a0a"/><rect x="294.5" y="3.5" width="4" height="7" fill="#2fd82f" stroke="#0a7a0a"/>
<path d="M318.5,13.5 L320.5,7.5 Q322.5,4 324.5,5.5 L329.5,10.5" stroke="#0a8a0a" stroke-width="1.1" fill="none"/>
<path d="M447.3,5.2 L451,8.5 L447.3,11.8Z" fill="#6fe86f" stroke="#0a8a0a" stroke-width="1"/>
<path d="M482,8.5H478.5M480.5,6 L477.6,8.5 L480.5,11" stroke="#d84810" stroke-width="1.2" fill="none"/><path d="M477.5,8.5 L480.7,6.3 V10.7Z" fill="#e85010"/>
<path d="M357.8,10.8 L363,16" stroke="#a87808" stroke-width="3.6" stroke-linecap="butt"/><path d="M357.8,10.8 L363,16" stroke="#f0d030" stroke-width="2" stroke-linecap="butt"/><circle cx="354" cy="7" r="5.6" fill="#d8f0fc" stroke="#3a88d8" stroke-width="1.2"/><path d="M351,7H357" stroke="#4a8ab8" stroke-width="1.8"/><path d="M354,4V10" stroke="#4a8ab8" stroke-width="1.8"/>
<path d="M385.7,10.8 L390.9,16" stroke="#a87808" stroke-width="3.6" stroke-linecap="butt"/><path d="M385.7,10.8 L390.9,16" stroke="#f0d030" stroke-width="2" stroke-linecap="butt"/><circle cx="381.9" cy="7" r="5.6" fill="#d8f0fc" stroke="#3a88d8" stroke-width="1.2"/><path d="M378.9,7H384.9" stroke="#4a8ab8" stroke-width="1.8"/>
<rect x="404.2" y="1.3" width="7.8" height="7.8" fill="#2f9a18"/><rect x="405.4" y="4.3" width="5.4" height="3.8" fill="#fff"/><rect x="406.2" y="5.1" width="3.8" height="1" fill="#a8dc98"/><rect x="406.4" y="7.5" width="3.4" height="0.8" fill="#2f9a18"/><rect x="405.2" y="2.3" width="1" height="1" fill="#fff" fill-opacity="0.8"/>
<rect x="412" y="1.3" width="7.8" height="7.8" fill="#1a4cc8"/><rect x="413.2" y="4.3" width="5.4" height="3.8" fill="#fff"/><rect x="414" y="5.1" width="3.8" height="1" fill="#a8c0f8"/><rect x="414.2" y="7.5" width="3.4" height="0.8" fill="#1a4cc8"/><rect x="413" y="2.3" width="1" height="1" fill="#fff" fill-opacity="0.8"/>
<rect x="404.2" y="9.1" width="7.8" height="7.8" fill="#1a4cc8"/><rect x="405.4" y="12.1" width="5.4" height="3.8" fill="#fff"/><rect x="406.2" y="12.899999999999999" width="3.8" height="1" fill="#a8c0f8"/><rect x="406.4" y="15.3" width="3.4" height="0.8" fill="#1a4cc8"/><rect x="405.2" y="10.1" width="1" height="1" fill="#fff" fill-opacity="0.8"/>
<rect x="412" y="9.1" width="7.8" height="7.8" fill="#2f9a18"/><rect x="413.2" y="12.1" width="5.4" height="3.8" fill="#fff"/><rect x="414" y="12.899999999999999" width="3.8" height="1" fill="#a8dc98"/><rect x="414.2" y="15.3" width="3.4" height="0.8" fill="#2f9a18"/><rect x="413" y="10.1" width="1" height="1" fill="#fff" fill-opacity="0.8"/>
<path d="M502.8,1.4 h6.3 l3.2,3.2 v8.6 q0,1.2 -1.2,1.2 h-8.3 q-1.2,0 -1.2,-1.2 v-10.6 q0,-1.2 1.2,-1.2z" fill="#fff" stroke="#8a8a8a" stroke-width="0.9"/><path d="M509.1,1.4 v3.2 h3.2" fill="#eee" stroke="#8a8a8a" stroke-width="0.7"/><path d="M506.5,3.6 q-1.6,-0.4 -1.8,1.4 v2 h-1 m1,0 v3.4 q-0.2,1.6 -1.4,1.2 M504,7h2.4" stroke="#555" stroke-width="0.9" fill="none"/>
<path d="M509.3,6.9 h3.7 v4 h4 v3.7 h-4 v4 h-3.7 v-4 h-4 v-3.7 h4z" fill="url(#ggreen)" stroke="#0a8a0a" stroke-width="0.9"/>
<circle cx="547" cy="8.9" r="7.9" fill="url(#gclock)" stroke="#0a3c90" stroke-width="0.6"/><circle cx="547" cy="8.9" r="5.4" fill="#f4f8fc"/><path d="M546.8,5V9.2H549.6" stroke="#444" stroke-width="1.1" fill="none"/><g fill="#a8b8c8"><rect x="546.5" y="4" width="1" height="1"/><rect x="546.5" y="12.8" width="1" height="1"/><rect x="542.2" y="8.4" width="1" height="1"/><rect x="550.8" y="8.4" width="1" height="1"/></g>
<rect x="578.4" y="2.4" width="15.2" height="13.4" fill="#fff" stroke="#3a7ad0" stroke-width="1"/><rect x="578" y="2" width="16" height="2.6" fill="#4a8ae0"/><rect x="579" y="2.6" width="14" height="0.9" fill="#9cc4f4"/><path d="M579,9.9H593" stroke="#3a7ad0" stroke-width="1"/><path d="M580.2,8.2 H582 L584,6.6 H585.4 L586.8,7.4 H588.4 L590.2,6.4 H592" stroke="#a02810" stroke-width="1.2" fill="none"/><path d="M580.6,13.4 H582.4 L584,12.4 L585.6,13.4 H587 L589.4,11.4 L591.6,13.6" stroke="#1a8a2a" stroke-width="1.2" fill="none"/>
<path d="M631,2.5 V15 L634,12.2 L636.2,16.6 L638,15.8 L635.8,11.4 L639.5,11.2 Z" fill="#333"/>
</g>
<rect x="523" y="8" width="5" height="1" fill="#000"/>
<rect x="524" y="9" width="3" height="1" fill="#000"/>
<rect x="525" y="10" width="1" height="1" fill="#000"/>
<rect x="562" y="8" width="5" height="1" fill="#000"/>
<rect x="563" y="9" width="3" height="1" fill="#000"/>
<rect x="564" y="10" width="1" height="1" fill="#000"/>
<rect x="601" y="8" width="5" height="1" fill="#000"/>
<rect x="602" y="9" width="3" height="1" fill="#000"/>
<rect x="603" y="10" width="1" height="1" fill="#000"/>
<rect x="907" y="8" width="5" height="1" fill="#000"/>
<rect x="908" y="9" width="3" height="1" fill="#000"/>
<rect x="909" y="10" width="1" height="1" fill="#000"/>
<rect x="662" y="2" width="1" height="5" fill="#444"/>
<rect x="662" y="12" width="1" height="5" fill="#444"/>
<rect x="655" y="9" width="5" height="1" fill="#444"/>
<rect x="665" y="9" width="5" height="1" fill="#444"/>
<rect x="696" y="3" width="1" height="14" fill="#444"/>
<rect x="719" y="9" width="13" height="1" fill="#444"/>
<g shape-rendering="auto">
<path d="M746.8,15.6 L759,4" stroke="#555" stroke-width="1.1"/>
<g stroke="#555" fill="none"><path d="M772.5,10.8 L785.8,2.8M774,13.8 L787,6M776,16.4 L786.5,9.8" stroke-width="1"/><path d="M777.2,5.5 L776.2,15M780.7,3.5 L779.7,13.5M784.2,1.2 L783.2,11.5" stroke-width="0.9"/></g>
<text x="784" y="17.7" font-size="6.5" fill="#222" font-weight="bold">E</text>
</g>
<rect x="802" y="2" width="1" height="1" fill="#666"/>
<rect x="804" y="2" width="1" height="1" fill="#666"/>
<rect x="806" y="2" width="1" height="1" fill="#666"/>
<rect x="808" y="2" width="1" height="1" fill="#666"/>
<rect x="810" y="2" width="1" height="1" fill="#666"/>
<rect x="812" y="2" width="1" height="1" fill="#666"/>
<rect x="814" y="2" width="1" height="1" fill="#666"/>
<rect x="802" y="5" width="1" height="1" fill="#666"/>
<rect x="804" y="5" width="1" height="1" fill="#666"/>
<rect x="806" y="5" width="1" height="1" fill="#666"/>
<rect x="808" y="5" width="1" height="1" fill="#666"/>
<rect x="810" y="5" width="1" height="1" fill="#666"/>
<rect x="812" y="5" width="1" height="1" fill="#666"/>
<rect x="814" y="5" width="1" height="1" fill="#666"/>
<rect x="802" y="9" width="1" height="1" fill="#666"/>
<rect x="804" y="9" width="1" height="1" fill="#666"/>
<rect x="806" y="9" width="1" height="1" fill="#666"/>
<rect x="808" y="9" width="1" height="1" fill="#666"/>
<rect x="810" y="9" width="1" height="1" fill="#666"/>
<rect x="812" y="9" width="1" height="1" fill="#666"/>
<rect x="814" y="9" width="1" height="1" fill="#666"/>
<rect x="802" y="13" width="1" height="1" fill="#666"/>
<rect x="804" y="13" width="1" height="1" fill="#666"/>
<rect x="806" y="13" width="1" height="1" fill="#666"/>
<rect x="808" y="13" width="1" height="1" fill="#666"/>
<rect x="810" y="13" width="1" height="1" fill="#666"/>
<g shape-rendering="auto">
<text x="812" y="17.7" font-size="6.5" fill="#222" font-weight="bold">F</text>
<text x="832.8" y="13.7" font-size="11.5" fill="#555" font-weight="bold" textLength="8" lengthAdjust="spacingAndGlyphs">A</text>
</g>
<rect x="859" y="3" width="1" height="1" fill="#666"/>
<rect x="859" y="15" width="1" height="1" fill="#666"/>
<rect x="861" y="3" width="1" height="1" fill="#666"/>
<rect x="861" y="15" width="1" height="1" fill="#666"/>
<rect x="863" y="3" width="1" height="1" fill="#666"/>
<rect x="863" y="15" width="1" height="1" fill="#666"/>
<rect x="865" y="3" width="1" height="1" fill="#666"/>
<rect x="865" y="15" width="1" height="1" fill="#666"/>
<rect x="867" y="3" width="1" height="1" fill="#666"/>
<rect x="867" y="15" width="1" height="1" fill="#666"/>
<rect x="869" y="3" width="1" height="1" fill="#666"/>
<rect x="869" y="15" width="1" height="1" fill="#666"/>
<rect x="871" y="3" width="1" height="1" fill="#666"/>
<rect x="871" y="15" width="1" height="1" fill="#666"/>
<rect x="859" y="3" width="1" height="1" fill="#666"/>
<rect x="871" y="3" width="1" height="1" fill="#666"/>
<rect x="859" y="5" width="1" height="1" fill="#666"/>
<rect x="871" y="5" width="1" height="1" fill="#666"/>
<rect x="859" y="7" width="1" height="1" fill="#666"/>
<rect x="871" y="7" width="1" height="1" fill="#666"/>
<rect x="859" y="9" width="1" height="1" fill="#666"/>
<rect x="871" y="9" width="1" height="1" fill="#666"/>
<rect x="859" y="11" width="1" height="1" fill="#666"/>
<rect x="871" y="11" width="1" height="1" fill="#666"/>
<rect x="859" y="13" width="1" height="1" fill="#666"/>
<rect x="871" y="13" width="1" height="1" fill="#666"/>
<rect x="859" y="15" width="1" height="1" fill="#666"/>
<rect x="871" y="15" width="1" height="1" fill="#666"/>
<g shape-rendering="auto">
<text x="864.7" y="13.7" font-size="11.5" fill="#555" text-anchor="middle" font-weight="bold">T</text>
<path d="M889.5,3.2 L893.2,6.8 H885.8Z M896.5,16 L900.2,12.4 H892.8Z" fill="#333"/><path d="M888.5,9.5 L891,12.5 L896.5,6.5" stroke="#333" stroke-width="1.4" fill="none"/>
<text x="933.4" y="12.4" font-size="9.8" fill="#333" textLength="13.2" lengthAdjust="spacingAndGlyphs">M1</text>
<text x="961.6" y="12.4" font-size="9.8" fill="#333" textLength="12.7" lengthAdjust="spacingAndGlyphs">M5</text>
<text x="987.5" y="12.4" font-size="9.8" fill="#333" textLength="18.0" lengthAdjust="spacingAndGlyphs">M15</text>
<text x="1015.6" y="12.4" font-size="9.8" fill="#333" textLength="17.7" lengthAdjust="spacingAndGlyphs">M30</text>
<text x="1046.4" y="12.4" font-size="9.8" fill="#333" textLength="12.0" lengthAdjust="spacingAndGlyphs">H1</text>
<text x="1073.6" y="12.4" font-size="9.8" fill="#333" textLength="12.7" lengthAdjust="spacingAndGlyphs">H4</text>
<text x="1102.9" y="12.4" font-size="9.8" fill="#333" textLength="11.7" lengthAdjust="spacingAndGlyphs">D1</text>
<text x="1130" y="12.4" font-size="9.8" fill="#333" textLength="14.4" lengthAdjust="spacingAndGlyphs">W1</text>
<text x="1156.4" y="12.4" font-size="9.8" fill="#333" textLength="15.0" lengthAdjust="spacingAndGlyphs">MN</text>
<path d="M1647,9.3 L1641.8,14" stroke="#2456c8" stroke-width="2.2" stroke-linecap="round"/><circle cx="1649.8" cy="6.3" r="3.9" fill="#f8fbff" stroke="#2456c8" stroke-width="1.2"/>
<path d="M1666.3,11.5 a5.6,4.6 0 1 1 4.5,4.4 l-2.3,2 l0.2,-2.6 a5,4 0 0 1 -2.4,-3.8z" fill="#e4e6ee" stroke="#b4b8c4" stroke-width="0.8"/>
<circle cx="1680.6" cy="6.6" r="8.4" fill="url(#gred)"/>
<text x="1680.6" y="11" font-size="12" fill="#fff" text-anchor="middle" font-weight="bold">1</text>
</g>
<rect x="0" y="45" width="210" height="59" fill="#fff"/>
<rect x="0" y="45" width="43" height="24" fill="url(#gbtn)"/>
<rect x="158" y="45" width="52" height="24" fill="url(#gbtn)"/>
<rect x="0" y="45" width="43" height="1" fill="#3a3ad8"/>
<rect x="158" y="45" width="52" height="1" fill="#3a3ad8"/>
<rect x="42" y="45" width="1" height="24" fill="#2020c0"/>
<rect x="158" y="45" width="1" height="24" fill="#2020c0"/>
<rect x="209" y="45" width="1" height="24" fill="#2020c0"/>
<rect x="0" y="69" width="100" height="33" fill="url(#gprice)"/>
<rect x="102" y="69" width="108" height="33" fill="url(#gprice)"/>
<rect x="0" y="68" width="39" height="1" fill="#2222c0"/>
<rect x="0" y="69" width="39" height="1" fill="#7a7af4"/>
<rect x="162" y="68" width="44" height="1" fill="#2222c0"/>
<rect x="162" y="69" width="44" height="1" fill="#7a7af4"/>
<rect x="45.5" y="45.5" width="111" height="21" fill="#fff" stroke="#c4c4c4"/>
<rect x="47" y="47" width="19" height="18" fill="url(#gspin)"/>
<rect x="135" y="47" width="20" height="18" fill="url(#gspin)"/>
<rect x="66" y="46" width="1" height="20" fill="#c4c4c4"/>
<rect x="134" y="46" width="1" height="20" fill="#c4c4c4"/>
<g shape-rendering="auto">
<polygon points="53,54 58.4,54 55.7,57.2" fill="#4a5aa8"/><polygon points="142,57.2 147.4,57.2 144.7,54" fill="#4a5aa8"/>
<text x="130.5" y="60" font-size="11.5" fill="#000" text-anchor="end">1.00</text>
<text x="3.6" y="61" font-size="12" fill="#fff" textLength="25" lengthAdjust="spacingAndGlyphs">SELL</text>
<text x="171.4" y="61" font-size="12" fill="#fff" textLength="23.4" lengthAdjust="spacingAndGlyphs">BUY</text>
<text x="11.5" y="96.6" font-size="11.5" fill="#fff" font-weight="bold" textLength="23.7" lengthAdjust="spacingAndGlyphs">1.19</text>
<text x="38.6" y="96.9" font-size="35" fill="#fff" textLength="34.6" lengthAdjust="spacingAndGlyphs">96</text>
<text x="78" y="80.4" font-size="11.5" fill="#fff" font-weight="bold" textLength="7" lengthAdjust="spacingAndGlyphs">6</text>
<text x="121.2" y="96.6" font-size="11.5" fill="#fff" font-weight="bold" textLength="23.8" lengthAdjust="spacingAndGlyphs">1.20</text>
<text x="149" y="96.9" font-size="35" fill="#fff" textLength="35.8" lengthAdjust="spacingAndGlyphs">00</text>
<text x="189" y="80.4" font-size="11.5" fill="#fff" font-weight="bold" textLength="7" lengthAdjust="spacingAndGlyphs">6</text>
</g>
</svg>
</body></html>
